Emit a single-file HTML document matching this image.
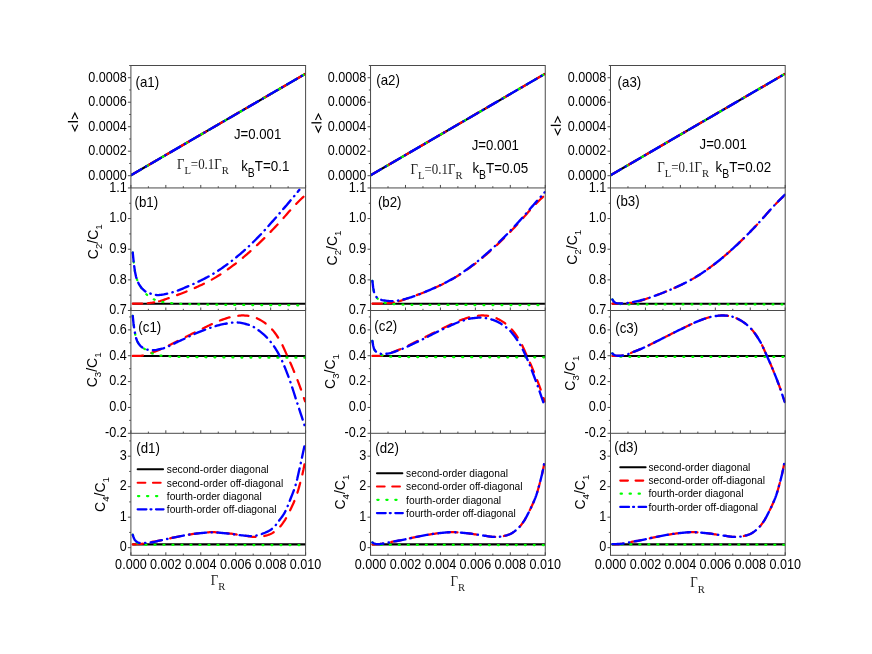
<!DOCTYPE html>
<html><head><meta charset="utf-8"><title>figure</title>
<style>
html,body{margin:0;padding:0;background:#fff;}
body{width:872px;height:654px;overflow:hidden;font-family:"Liberation Sans",sans-serif;}
svg{display:block;will-change:transform;}
</style></head><body>
<svg width="872" height="654" viewBox="0 0 872 654">
<rect x="0" y="0" width="872" height="654" fill="#fff"/>
<defs>
<clipPath id="cp00"><rect x="130.90" y="65.50" width="175.10" height="122.45"/></clipPath>
<clipPath id="cp01"><rect x="130.90" y="187.95" width="175.10" height="122.55"/></clipPath>
<clipPath id="cp02"><rect x="130.90" y="310.50" width="175.10" height="122.80"/></clipPath>
<clipPath id="cp03"><rect x="130.90" y="433.30" width="175.10" height="122.00"/></clipPath>
<clipPath id="cp10"><rect x="370.55" y="65.50" width="175.10" height="122.45"/></clipPath>
<clipPath id="cp11"><rect x="370.55" y="187.95" width="175.10" height="122.55"/></clipPath>
<clipPath id="cp12"><rect x="370.55" y="310.50" width="175.10" height="122.80"/></clipPath>
<clipPath id="cp13"><rect x="370.55" y="433.30" width="175.10" height="122.00"/></clipPath>
<clipPath id="cp20"><rect x="610.50" y="65.50" width="175.10" height="122.45"/></clipPath>
<clipPath id="cp21"><rect x="610.50" y="187.95" width="175.10" height="122.55"/></clipPath>
<clipPath id="cp22"><rect x="610.50" y="310.50" width="175.10" height="122.80"/></clipPath>
<clipPath id="cp23"><rect x="610.50" y="433.30" width="175.10" height="122.00"/></clipPath>
</defs>
<g>
<g clip-path="url(#cp00)">
<path d="M131.40,175.00 L305.60,73.70" fill="none" stroke="#000" stroke-width="2.1" stroke-linecap="butt"/>
<path d="M131.40,175.00 L305.60,73.70" fill="none" stroke="#ff0000" stroke-width="2.25" stroke-linecap="round" stroke-dasharray="10.15 8.85"/>
<path d="M131.40,175.00 L305.60,73.70" fill="none" stroke="#00ff00" stroke-width="2.25" stroke-linecap="round" stroke-dasharray="1.0 8.0"/>
<path d="M131.40,175.00 L305.60,73.70" fill="none" stroke="#0000ff" stroke-width="2.35" stroke-linecap="round" stroke-dasharray="11.45 5.35 0.4 5.3"/>
</g><g clip-path="url(#cp01)">
<path d="M132.40,303.68 L305.60,303.68" fill="none" stroke="#000" stroke-width="2.1" stroke-linecap="butt"/>
<path d="M132.73,303.68 L134.00,303.68 L135.27,303.68 L136.54,303.68 L137.81,303.68 L139.08,303.68 L140.35,303.68 L141.44,303.66 L142.53,303.62 L143.62,303.56 L144.71,303.49 L145.80,303.41 L146.89,303.33 L148.10,303.22 L149.31,303.08 L150.52,302.92 L151.73,302.74 L152.94,302.54 L154.15,302.32 L155.37,302.08 L156.58,301.84 L157.79,301.58 L159.00,301.30 L159.13,301.26" fill="none" stroke-linejoin="round" stroke="#ff0000" stroke-width="2.25" stroke-linecap="round"  stroke-dasharray="9.5 5.5 6.5 50"/>
<path d="M159.13,301.26 L160.21,300.97 L161.42,300.61 L162.63,300.22 L163.84,299.81 L165.05,299.38 L166.26,298.95 L167.47,298.52 L168.68,298.10 L169.96,297.65 L171.25,297.21 L172.53,296.75 L173.81,296.30 L175.09,295.83 L176.37,295.37 L177.66,294.89 L178.94,294.42 L180.22,293.93 L181.50,293.44 L182.78,292.94 L184.06,292.44 L185.35,291.93 L186.63,291.41 L187.91,290.89 L189.19,290.36 L190.47,289.82 L191.76,289.27 L193.04,288.72 L194.32,288.16 L195.60,287.60 L196.88,287.02 L198.16,286.44 L199.45,285.85 L200.73,285.26 L202.01,284.65 L203.29,284.03 L204.57,283.40 L205.86,282.76 L207.14,282.11 L208.42,281.44 L209.70,280.76 L210.98,280.07 L212.26,279.36 L213.55,278.63 L214.83,277.88 L216.11,277.11 L217.39,276.33 L218.67,275.52 L219.96,274.70 L221.24,273.86 L222.52,273.01 L223.80,272.14 L225.08,271.25 L226.37,270.36 L227.65,269.45 L228.93,268.53 L230.21,267.60 L231.49,266.66 L232.77,265.71 L234.06,264.76 L235.34,263.79 L236.62,262.80 L237.90,261.79 L239.18,260.76 L240.47,259.72 L241.75,258.66 L243.03,257.59 L244.31,256.50 L245.59,255.41 L246.87,254.29 L248.16,253.17 L249.44,252.04 L250.72,250.89 L252.00,249.74 L253.28,248.58 L254.57,247.41 L255.85,246.23 L257.13,245.05 L258.41,243.85 L259.69,242.63 L260.97,241.40 L262.26,240.16 L263.54,238.90 L264.82,237.63 L266.10,236.35 L267.38,235.06 L268.67,233.76 L269.95,232.45 L271.23,231.14 L272.51,229.81 L273.79,228.48 L275.08,227.14 L276.36,225.79 L277.64,224.44 L278.88,223.11 L280.13,221.75 L281.37,220.37 L282.62,218.97 L283.86,217.55 L285.11,216.13 L286.36,214.70 L287.60,213.28 L288.85,211.86 L290.09,210.45 L291.34,209.06 L292.58,207.69 L293.83,206.35 L295.07,205.05 L296.32,203.76 L297.58,202.49 L298.83,201.24 L300.08,200.01 L301.34,198.80 L302.59,197.60 L303.84,196.41 L305.10,195.24" fill="none" stroke-linejoin="round" stroke="#ff0000" stroke-width="2.25" stroke-linecap="round" stroke-dasharray="10.15 8.85"/>
<path d="M132.73,252.55 L133.82,263.45 L134.91,271.15 L136.00,276.52 L137.09,279.80 L138.17,282.32 L139.26,284.39 L140.35,286.33 L141.44,288.21 L142.53,289.89 L143.62,291.34 L144.71,292.61 L145.80,293.76 L146.89,294.79 L147.98,295.70 L149.07,296.53 L150.16,297.31 L151.25,298.02 L152.34,298.65 L153.43,299.19 L154.52,299.65 L155.61,300.07 L156.70,300.45 L157.79,300.79 L158.88,301.09 L159.97,301.37 L161.21,301.65 L162.46,301.91 L163.70,302.15 L164.95,302.37 L166.19,302.57 L167.44,302.74 L168.68,302.89 L169.89,303.02 L171.10,303.14 L172.31,303.25 L173.52,303.36 L174.74,303.45 L175.95,303.54 L177.16,303.62 L178.37,303.69 L179.58,303.76 L180.79,303.82 L182.00,303.88 L183.21,303.94 L184.42,303.99 L185.63,304.04 L186.84,304.08 L188.05,304.12 L189.26,304.16 L190.47,304.20 L191.76,304.23 L193.04,304.27 L194.32,304.30 L195.60,304.33 L196.88,304.36 L198.16,304.39 L199.45,304.41 L200.73,304.44 L202.01,304.47 L203.29,304.49 L204.57,304.51 L205.86,304.54 L207.14,304.56 L208.42,304.58 L209.70,304.60 L210.98,304.62 L212.26,304.63 L213.55,304.65 L214.83,304.67 L216.11,304.69 L217.39,304.70 L218.67,304.72 L219.96,304.74 L221.24,304.75 L222.52,304.77 L223.80,304.78 L225.08,304.80 L226.37,304.81 L227.65,304.83 L228.93,304.84 L230.21,304.85 L231.49,304.87 L232.77,304.88 L234.06,304.89 L235.34,304.91 L236.62,304.92 L237.90,304.93 L239.18,304.94 L240.47,304.95 L241.75,304.97 L243.03,304.98 L244.31,304.99 L245.59,305.00 L246.87,305.01 L248.16,305.02 L249.44,305.03 L250.72,305.04 L252.00,305.04 L253.28,305.05 L254.57,305.06 L255.85,305.07 L257.14,305.08 L258.44,305.09 L259.74,305.09 L261.03,305.10 L262.33,305.11 L263.62,305.12 L264.92,305.12 L266.22,305.13 L267.51,305.14 L268.81,305.15 L270.10,305.15 L271.40,305.16 L272.70,305.17 L273.99,305.18 L275.29,305.18 L276.58,305.19 L277.88,305.20 L279.18,305.20 L280.47,305.21 L281.77,305.21 L283.06,305.22 L284.36,305.23 L285.66,305.23 L286.95,305.24 L288.25,305.24 L289.54,305.25 L290.84,305.25 L292.14,305.26 L293.43,305.26 L294.73,305.26 L296.02,305.27 L297.32,305.27 L298.62,305.27 L299.91,305.28 L301.21,305.28 L302.50,305.28 L303.80,305.29 L305.10,305.29" fill="none" stroke-linejoin="round" stroke="#00ff00" stroke-width="2.25" stroke-linecap="round" stroke-dasharray="1.0 8.0" />
<path d="M132.73,252.55 L133.82,263.45 L134.91,271.15 L136.00,276.52 L137.09,279.90 L138.17,282.58 L138.24,282.71" fill="none" stroke-linejoin="round" stroke="#0000ff" stroke-width="2.35" stroke-linecap="round"  stroke-dasharray="9 4.6 12 50"/>
<path d="M138.24,282.71 L139.26,284.69 L140.35,286.33 L141.44,287.70 L142.53,288.93 L143.62,290.01 L144.71,290.92 L145.80,291.66 L146.89,292.21 L148.10,292.71 L149.31,293.19 L150.52,293.63 L151.73,294.03 L152.94,294.37 L154.15,294.65 L155.37,294.87 L156.58,295.00 L157.79,295.05 L159.00,295.01 L160.21,294.92 L161.42,294.77 L162.63,294.57 L163.84,294.35 L165.05,294.10 L166.26,293.84 L167.47,293.57 L168.68,293.30 L169.96,293.01 L171.25,292.68 L172.53,292.32 L173.81,291.92 L175.09,291.50 L176.37,291.06 L177.66,290.59 L178.94,290.10 L180.22,289.59 L181.50,289.07 L182.78,288.54 L184.06,288.00 L185.35,287.45 L186.63,286.89 L187.91,286.34 L189.19,285.79 L190.47,285.24 L191.76,284.69 L193.04,284.13 L194.32,283.56 L195.60,282.98 L196.88,282.38 L198.16,281.78 L199.45,281.17 L200.73,280.54 L202.01,279.90 L203.29,279.25 L204.57,278.59 L205.86,277.91 L207.14,277.23 L208.42,276.53 L209.70,275.81 L210.98,275.08 L212.26,274.34 L213.55,273.59 L214.83,272.81 L216.11,272.01 L217.39,271.19 L218.67,270.35 L219.96,269.49 L221.24,268.62 L222.52,267.72 L223.80,266.82 L225.08,265.90 L226.37,264.96 L227.65,264.01 L228.93,263.05 L230.21,262.08 L231.49,261.09 L232.77,260.10 L234.06,259.09 L235.34,258.07 L236.62,257.03 L237.90,255.97 L239.18,254.90 L240.47,253.80 L241.75,252.69 L243.03,251.56 L244.31,250.41 L245.59,249.25 L246.87,248.08 L248.16,246.89 L249.44,245.68 L250.72,244.47 L252.00,243.24 L253.28,241.99 L254.57,240.74 L255.85,239.48 L257.13,238.20 L258.41,236.89 L259.69,235.56 L260.97,234.20 L262.26,232.83 L263.54,231.44 L264.82,230.03 L266.10,228.61 L267.38,227.18 L268.67,225.74 L269.95,224.29 L271.23,222.83 L272.51,221.37 L273.79,219.90 L275.08,218.43 L276.36,216.97 L277.64,215.51 L278.92,214.05 L280.20,212.58 L281.48,211.10 L282.77,209.62 L284.05,208.13 L285.33,206.64 L286.61,205.14 L287.89,203.63 L289.18,202.12 L290.46,200.60 L291.74,199.07 L293.02,197.54 L294.30,196.00 L295.58,194.46 L296.87,192.91 L298.15,191.35 L299.43,189.79" fill="none" stroke-linejoin="round" stroke="#0000ff" stroke-width="2.35" stroke-linecap="round" stroke-dasharray="11.45 5.35 0.4 5.3"/>
</g><g clip-path="url(#cp02)">
<path d="M132.40,355.99 L305.60,355.99" fill="none" stroke="#000" stroke-width="2.1" stroke-linecap="butt"/>
<path d="M132.73,355.99 L134.00,355.98 L135.27,355.96 L136.54,355.93 L137.81,355.89 L139.08,355.83 L140.35,355.77 L141.44,355.69 L142.53,355.56 L143.62,355.38 L144.71,355.17 L145.80,354.94 L146.89,354.68 L147.98,354.37 L149.07,353.97 L150.16,353.51 L151.25,353.02 L152.34,352.53 L153.43,352.07 L154.67,351.58 L155.92,351.09 L157.16,350.61 L158.41,350.12 L159.65,349.62 L160.90,349.11 L162.15,348.58 L163.39,348.03 L164.64,347.47 L165.88,346.89 L167.13,346.29 L168.37,345.69 L169.62,345.08 L170.86,344.46 L172.11,343.84 L173.35,343.21 L174.60,342.58 L175.84,341.95 L177.09,341.32 L178.33,340.70 L179.58,340.08 L180.86,339.45 L182.14,338.81 L183.42,338.16 L184.71,337.52 L185.99,336.87 L187.27,336.21 L188.55,335.56 L189.83,334.91 L191.11,334.26 L192.40,333.61 L193.68,332.96 L194.96,332.32 L196.24,331.68 L197.52,331.05 L198.81,330.42 L200.09,329.80 L201.37,329.19 L202.65,328.58 L203.93,327.96 L205.21,327.33 L206.50,326.71 L207.78,326.08 L209.06,325.45 L210.34,324.83 L211.62,324.22 L212.91,323.61 L214.19,323.02 L215.47,322.44 L216.75,321.87 L218.03,321.33 L219.32,320.80 L220.60,320.30 L221.88,319.83 L223.16,319.38 L224.37,318.97 L225.58,318.56 L226.79,318.17 L228.00,317.78 L229.21,317.42 L230.42,317.08 L231.63,316.79 L232.85,316.53 L234.06,316.33 L235.30,316.15 L236.55,315.97 L237.79,315.81 L239.04,315.67 L240.28,315.56 L241.53,315.49 L242.77,315.46 L243.86,315.48 L244.95,315.52 L246.04,315.59 L247.13,315.68 L248.22,315.78 L249.31,315.90 L250.40,316.06 L251.49,316.32 L252.58,316.65 L253.67,317.02 L254.76,317.43 L255.85,317.86 L257.04,318.35 L258.22,318.90 L259.41,319.50 L260.60,320.15 L261.79,320.86 L262.98,321.62 L264.17,322.42 L265.36,323.28 L266.54,324.18 L267.73,325.14 L268.92,326.14 L270.13,327.25 L271.34,328.51 L272.55,329.89 L273.76,331.39 L274.98,333.00 L276.19,334.70 L277.40,336.50 L278.61,338.37 L279.82,340.30 L281.09,342.52 L282.36,345.01 L283.63,347.69 L284.90,350.50 L286.17,353.36 L287.44,356.21 L288.67,358.95 L289.90,361.73 L291.12,364.56 L292.35,367.43 L293.57,370.37 L294.80,373.36 L296.03,376.41 L297.25,379.53 L298.37,382.44 L299.49,385.43 L300.61,388.49 L301.73,391.61 L302.85,394.79 L303.97,398.03 L305.10,401.32" fill="none" stroke-linejoin="round" stroke="#ff0000" stroke-width="2.25" stroke-linecap="round" stroke-dasharray="10.15 8.85" />
<path d="M132.73,315.90 L133.49,323.24 L134.25,328.97 L135.20,334.12 L136.14,338.25 L137.09,340.96 L138.17,342.87 L139.26,344.38 L140.35,345.57 L141.44,346.58 L142.53,347.49 L143.62,348.31 L144.71,349.00 L145.80,349.67 L146.89,350.38 L147.98,351.09 L149.07,351.78 L150.16,352.41 L151.25,352.94 L152.34,353.40 L153.43,353.84 L154.52,354.23 L155.61,354.59 L156.70,354.88 L157.79,355.12 L159.00,355.33 L160.21,355.53 L161.42,355.71 L162.63,355.87 L163.84,356.01 L165.05,356.14 L166.26,356.25 L167.47,356.35 L168.68,356.43 L169.89,356.50 L171.10,356.56 L172.31,356.62 L173.52,356.67 L174.74,356.72 L175.95,356.76 L177.16,356.80 L178.37,356.83 L179.58,356.86 L180.84,356.89 L182.09,356.92 L183.35,356.94 L184.61,356.96 L185.86,356.99 L187.12,357.01 L188.38,357.03 L189.64,357.05 L190.89,357.07 L192.15,357.09 L193.41,357.11 L194.66,357.12 L195.92,357.14 L197.18,357.16 L198.44,357.17 L199.69,357.18 L200.95,357.20 L202.21,357.21 L203.46,357.22 L204.72,357.24 L205.98,357.25 L207.24,357.26 L208.49,357.27 L209.75,357.28 L211.01,357.29 L212.26,357.30 L213.55,357.31 L214.84,357.32 L216.13,357.33 L217.42,357.34 L218.71,357.35 L220.00,357.36 L221.29,357.37 L222.58,357.38 L223.87,357.38 L225.16,357.39 L226.45,357.40 L227.74,357.41 L229.03,357.42 L230.32,357.43 L231.60,357.44 L232.89,357.45 L234.18,357.46 L235.47,357.47 L236.76,357.47 L238.05,357.48 L239.34,357.49 L240.63,357.50 L241.92,357.51 L243.21,357.52 L244.50,357.52 L245.79,357.53 L247.08,357.54 L248.37,357.55 L249.66,357.55 L250.94,357.56 L252.23,357.57 L253.52,357.58 L254.81,357.58 L256.10,357.59 L257.39,357.60 L258.68,357.60 L259.97,357.61 L261.26,357.62 L262.55,357.62 L263.84,357.63 L265.13,357.64 L266.42,357.64 L267.71,357.65 L268.99,357.65 L270.28,357.66 L271.57,357.66 L272.86,357.67 L274.15,357.67 L275.44,357.68 L276.73,357.68 L278.02,357.69 L279.31,357.69 L280.60,357.70 L281.89,357.70 L283.18,357.70 L284.47,357.71 L285.76,357.71 L287.05,357.71 L288.33,357.72 L289.62,357.72 L290.91,357.72 L292.20,357.72 L293.49,357.73 L294.78,357.73 L296.07,357.73 L297.36,357.73 L298.65,357.73 L299.94,357.73 L301.23,357.73 L302.52,357.73 L303.81,357.73 L305.10,357.73" fill="none" stroke-linejoin="round" stroke="#00ff00" stroke-width="2.25" stroke-linecap="round" stroke-dasharray="1.0 8.0" />
<path d="M132.73,315.90 L133.49,323.24 L134.25,328.97 L135.20,334.12 L136.14,338.25 L137.09,340.96 L138.17,342.93 L139.26,344.54 L140.35,345.81 L141.44,346.79 L142.53,347.49 L143.78,348.14 L145.02,348.73 L146.27,349.26 L147.51,349.70 L148.76,350.04 L150.00,350.25 L151.25,350.33 L152.46,350.29 L153.67,350.20 L154.88,350.06 L156.09,349.87 L157.30,349.65 L158.51,349.40 L159.72,349.13 L160.93,348.86 L162.15,348.58 L163.39,348.27 L164.64,347.88 L165.88,347.44 L167.13,346.95 L168.37,346.41 L169.62,345.84 L170.86,345.24 L172.11,344.63 L173.35,344.00 L174.60,343.36 L175.84,342.74 L177.09,342.12 L178.33,341.52 L179.58,340.96 L180.86,340.38 L182.14,339.79 L183.42,339.20 L184.71,338.60 L185.99,337.99 L187.27,337.38 L188.55,336.77 L189.83,336.17 L191.11,335.56 L192.40,334.97 L193.68,334.38 L194.96,333.80 L196.24,333.24 L197.52,332.69 L198.81,332.15 L200.09,331.64 L201.37,331.15 L202.65,330.67 L203.93,330.18 L205.21,329.70 L206.50,329.22 L207.78,328.74 L209.06,328.27 L210.34,327.81 L211.62,327.36 L212.91,326.92 L214.19,326.50 L215.47,326.10 L216.75,325.71 L218.03,325.35 L219.32,325.02 L220.60,324.71 L221.88,324.43 L223.16,324.18 L224.35,323.96 L225.54,323.73 L226.73,323.51 L227.92,323.30 L229.10,323.10 L230.29,322.92 L231.48,322.76 L232.67,322.62 L233.86,322.52 L235.05,322.46 L236.24,322.43 L237.42,322.46 L238.61,322.55 L239.80,322.70 L240.99,322.88 L242.18,323.11 L243.37,323.38 L244.56,323.68 L245.74,324.00 L246.93,324.34 L248.12,324.69 L249.31,325.05 L250.50,325.46 L251.69,325.97 L252.88,326.56 L254.06,327.23 L255.25,327.97 L256.44,328.77 L257.63,329.61 L258.82,330.50 L260.01,331.42 L261.20,332.37 L262.38,333.33 L263.60,334.35 L264.81,335.46 L266.02,336.66 L267.23,337.93 L268.44,339.27 L269.65,340.68 L270.86,342.17 L272.07,343.71 L273.28,345.31 L274.37,346.85 L275.46,348.50 L276.55,350.28 L277.64,352.16 L278.73,354.14 L279.82,356.21 L281.06,358.73 L282.31,361.43 L283.55,364.30 L284.80,367.31 L286.04,370.43 L287.29,373.64 L288.53,376.91 L289.78,380.32 L291.02,383.92 L292.27,387.67 L293.52,391.50 L294.76,395.38 L296.01,399.25 L297.25,403.06 L298.37,406.46 L299.49,409.87 L300.61,413.28 L301.73,416.71 L302.85,420.14 L303.97,423.58 L305.10,427.03" fill="none" stroke-linejoin="round" stroke="#0000ff" stroke-width="2.35" stroke-linecap="round" stroke-dasharray="11.45 5.35 0.4 5.3" />
</g><g clip-path="url(#cp03)">
<path d="M132.40,544.37 L305.60,544.37" fill="none" stroke="#000" stroke-width="2.1" stroke-linecap="butt"/>
<path d="M132.73,544.37 L134.00,544.35 L135.27,544.30 L136.54,544.23 L137.81,544.14 L139.08,544.04 L140.35,543.93 L141.44,543.81 L142.53,543.65 L143.62,543.46 L144.71,543.25 L145.80,543.04 L146.89,542.84 L148.14,542.62 L149.38,542.40 L150.63,542.18 L151.87,541.95 L153.12,541.72 L154.36,541.49 L155.61,541.26 L156.85,541.03 L158.10,540.79 L159.34,540.55 L160.59,540.31 L161.83,540.07 L163.08,539.82 L164.32,539.57 L165.60,539.31 L166.87,539.04 L168.14,538.76 L169.41,538.48 L170.68,538.19 L171.95,537.91 L173.22,537.62 L174.49,537.34 L175.76,537.07 L177.04,536.80 L178.31,536.55 L179.58,536.30 L180.82,536.07 L182.07,535.84 L183.31,535.61 L184.56,535.38 L185.80,535.16 L187.05,534.94 L188.29,534.72 L189.54,534.52 L190.79,534.32 L192.03,534.13 L193.28,533.94 L194.52,533.77 L195.77,533.62 L197.01,533.47 L198.28,533.32 L199.55,533.18 L200.82,533.03 L202.10,532.88 L203.37,532.74 L204.64,532.60 L205.91,532.48 L207.18,532.38 L208.45,532.29 L209.72,532.22 L210.99,532.18 L212.26,532.16 L213.54,532.17 L214.81,532.21 L216.08,532.26 L217.35,532.34 L218.62,532.42 L219.89,532.53 L221.16,532.64 L222.43,532.75 L223.71,532.88 L224.98,533.00 L226.25,533.13 L227.52,533.25 L228.79,533.38 L230.06,533.54 L231.33,533.70 L232.60,533.89 L233.87,534.08 L235.15,534.28 L236.42,534.48 L237.69,534.68 L238.96,534.88 L240.23,535.08 L241.50,535.26 L242.77,535.43 L243.96,535.59 L245.15,535.77 L246.34,535.95 L247.53,536.14 L248.72,536.32 L249.90,536.49 L251.09,536.64 L252.28,536.77 L253.47,536.87 L254.66,536.93 L255.85,536.96 L256.94,536.94 L258.03,536.89 L259.12,536.82 L260.21,536.74 L261.30,536.61 L262.38,536.43 L263.47,536.19 L264.56,535.92 L265.65,535.65 L266.74,535.36 L267.83,535.04 L268.92,534.67 L270.01,534.26 L271.10,533.80 L272.35,533.13 L273.61,532.32 L274.86,531.40 L276.11,530.42 L277.09,529.61 L278.07,528.72 L279.06,527.76 L280.04,526.71 L281.08,525.49 L282.13,524.15 L283.17,522.70 L284.22,521.15 L285.27,519.52 L286.46,517.44 L287.66,515.16 L288.86,512.81 L290.06,510.37 L291.22,507.98 L292.38,505.54 L293.55,502.96 L294.56,500.60 L295.58,498.10 L296.60,495.33 L297.83,491.45 L299.07,487.08 L300.30,482.48 L301.32,478.62 L302.34,474.55 L303.35,470.06 L304.22,465.62 L305.10,460.69" fill="none" stroke-linejoin="round" stroke="#ff0000" stroke-width="2.25" stroke-linecap="round" stroke-dasharray="10.15 8.85" />
<path d="M132.73,534.78 L133.82,537.94 L134.91,540.22 L136.00,541.70 L137.09,542.83 L138.17,543.49 L139.26,543.86 L140.35,544.18 L141.44,544.44 L142.53,544.63 L143.62,544.76 L144.71,544.80 L146.01,544.81 L147.30,544.81 L148.59,544.82 L149.89,544.82 L151.18,544.83 L152.47,544.83 L153.77,544.83 L155.06,544.84 L156.35,544.84 L157.65,544.85 L158.94,544.85 L160.23,544.86 L161.53,544.86 L162.82,544.86 L164.11,544.87 L165.41,544.87 L166.70,544.88 L167.99,544.88 L169.29,544.88 L170.58,544.89 L171.87,544.89 L173.17,544.89 L174.46,544.90 L175.75,544.90 L177.05,544.90 L178.34,544.91 L179.63,544.91 L180.93,544.91 L182.22,544.92 L183.51,544.92 L184.81,544.92 L186.10,544.93 L187.39,544.93 L188.69,544.93 L189.98,544.93 L191.28,544.94 L192.57,544.94 L193.86,544.94 L195.16,544.94 L196.45,544.95 L197.74,544.95 L199.04,544.95 L200.33,544.95 L201.62,544.96 L202.92,544.96 L204.21,544.96 L205.50,544.96 L206.80,544.96 L208.09,544.97 L209.38,544.97 L210.68,544.97 L211.97,544.97 L213.26,544.97 L214.56,544.98 L215.85,544.98 L217.14,544.98 L218.44,544.98 L219.73,544.98 L221.02,544.98 L222.32,544.98 L223.61,544.99 L224.90,544.99 L226.20,544.99 L227.49,544.99 L228.78,544.99 L230.08,544.99 L231.37,544.99 L232.66,545.00 L233.96,545.00 L235.25,545.00 L236.54,545.00 L237.84,545.00 L239.13,545.00 L240.42,545.00 L241.72,545.00 L243.01,545.00 L244.31,545.00 L245.60,545.01 L246.89,545.01 L248.19,545.01 L249.48,545.01 L250.77,545.01 L252.07,545.01 L253.36,545.01 L254.65,545.01 L255.95,545.01 L257.24,545.01 L258.53,545.01 L259.83,545.01 L261.12,545.01 L262.41,545.01 L263.71,545.01 L265.00,545.01 L266.29,545.01 L267.59,545.01 L268.88,545.02 L270.17,545.02 L271.47,545.02 L272.76,545.02 L274.05,545.02 L275.35,545.02 L276.64,545.02 L277.93,545.02 L279.23,545.02 L280.52,545.02 L281.81,545.02 L283.11,545.02 L284.40,545.02 L285.69,545.02 L286.99,545.02 L288.28,545.02 L289.57,545.02 L290.87,545.02 L292.16,545.02 L293.45,545.02 L294.75,545.02 L296.04,545.02 L297.34,545.02 L298.63,545.02 L299.92,545.02 L301.22,545.02 L302.51,545.02 L303.80,545.02 L305.10,545.02" fill="none" stroke-linejoin="round" stroke="#00ff00" stroke-width="2.25" stroke-linecap="round" stroke-dasharray="1.0 8.0" />
<path d="M132.73,534.78 L133.82,538.08 L134.91,540.22 L136.00,541.18 L137.09,541.97 L138.17,542.56 L139.26,542.93 L140.35,543.06 L141.44,543.05 L142.53,543.03 L143.62,542.99 L144.71,542.95 L145.80,542.89 L146.89,542.84 L148.14,542.75 L149.38,542.63 L150.63,542.46 L151.87,542.27 L153.12,542.04 L154.36,541.79 L155.61,541.53 L156.85,541.25 L158.10,540.97 L159.34,540.68 L160.59,540.39 L161.83,540.10 L163.08,539.83 L164.32,539.57 L165.60,539.31 L166.87,539.04 L168.14,538.76 L169.41,538.48 L170.68,538.19 L171.95,537.91 L173.22,537.62 L174.49,537.34 L175.76,537.07 L177.04,536.80 L178.31,536.55 L179.58,536.30 L180.82,536.07 L182.07,535.84 L183.31,535.60 L184.56,535.37 L185.80,535.14 L187.05,534.92 L188.29,534.70 L189.54,534.49 L190.79,534.28 L192.03,534.09 L193.28,533.91 L194.52,533.75 L195.77,533.60 L197.01,533.47 L198.28,533.34 L199.55,533.22 L200.82,533.09 L202.10,532.96 L203.37,532.85 L204.64,532.74 L205.91,532.64 L207.18,532.55 L208.45,532.48 L209.72,532.43 L210.99,532.39 L212.26,532.38 L213.54,532.39 L214.81,532.43 L216.08,532.48 L217.35,532.56 L218.62,532.65 L219.89,532.75 L221.16,532.86 L222.43,532.98 L223.71,533.10 L224.98,533.23 L226.25,533.35 L227.52,533.47 L228.79,533.60 L230.06,533.74 L231.33,533.91 L232.60,534.08 L233.87,534.26 L235.15,534.45 L236.42,534.63 L237.69,534.82 L238.96,534.99 L240.23,535.15 L241.50,535.30 L242.77,535.43 L244.02,535.55 L245.26,535.68 L246.51,535.80 L247.75,535.91 L249.00,536.00 L250.24,536.06 L251.49,536.08 L252.58,536.05 L253.67,535.95 L254.76,535.81 L255.85,535.63 L256.94,535.42 L258.03,535.21 L259.16,534.94 L260.29,534.58 L261.43,534.16 L262.56,533.71 L263.69,533.25 L264.96,532.73 L266.22,532.18 L267.48,531.59 L268.75,530.93 L270.01,530.20 L271.16,529.45 L272.30,528.58 L273.44,527.60 L274.59,526.50 L275.57,525.36 L276.55,524.03 L277.53,522.62 L278.51,521.27 L279.75,519.70 L280.98,518.14 L282.21,516.47 L283.09,515.20 L283.96,513.83 L284.83,512.33 L285.92,510.17 L287.01,507.76 L288.10,505.10 L289.19,502.31 L290.17,499.80 L291.15,497.30 L292.02,495.15 L292.89,492.94 L293.95,490.07 L295.00,487.00 L296.05,483.57 L297.20,479.08 L298.34,474.09 L298.99,471.12 L299.65,468.10 L300.85,462.67 L302.04,457.20 L303.06,452.47 L304.08,447.68 L305.10,442.82" fill="none" stroke-linejoin="round" stroke="#0000ff" stroke-width="2.35" stroke-linecap="round" stroke-dasharray="11.45 5.35 0.4 5.3" />
</g></g>
<g>
<g clip-path="url(#cp10)">
<path d="M371.05,175.00 L545.25,73.70" fill="none" stroke="#000" stroke-width="2.1" stroke-linecap="butt"/>
<path d="M371.05,175.00 L545.25,73.70" fill="none" stroke="#ff0000" stroke-width="2.25" stroke-linecap="round" stroke-dasharray="10.15 8.85"/>
<path d="M371.05,175.00 L545.25,73.70" fill="none" stroke="#00ff00" stroke-width="2.25" stroke-linecap="round" stroke-dasharray="1.0 8.0"/>
<path d="M371.05,175.00 L545.25,73.70" fill="none" stroke="#0000ff" stroke-width="2.35" stroke-linecap="round" stroke-dasharray="11.45 5.35 0.4 5.3"/>
</g><g clip-path="url(#cp11)">
<path d="M372.05,303.68 L545.25,303.68" fill="none" stroke="#000" stroke-width="2.1" stroke-linecap="butt"/>
<path d="M372.38,303.68 L373.65,303.68 L374.92,303.68 L376.19,303.68 L377.46,303.68 L378.73,303.68 L380.00,303.68 L381.09,303.66 L382.18,303.62 L383.27,303.56 L384.36,303.49 L385.45,303.41 L386.54,303.33 L387.75,303.22 L388.96,303.08 L390.17,302.92 L391.38,302.74 L392.59,302.54 L393.80,302.32 L395.02,302.08 L396.23,301.84 L397.44,301.58 L398.65,301.30 L398.78,301.26" fill="none" stroke-linejoin="round" stroke="#ff0000" stroke-width="2.25" stroke-linecap="round"  stroke-dasharray="9.5 5.5 6.5 50"/>
<path d="M398.78,301.26 L399.86,300.97 L401.07,300.61 L402.28,300.22 L403.49,299.81 L404.70,299.38 L405.91,298.95 L407.12,298.52 L408.33,298.10 L409.61,297.65 L410.90,297.21 L412.18,296.75 L413.46,296.30 L414.74,295.83 L416.02,295.37 L417.31,294.89 L418.59,294.42 L419.87,293.93 L421.15,293.44 L422.43,292.94 L423.71,292.44 L425.00,291.93 L426.28,291.41 L427.56,290.89 L428.84,290.36 L430.12,289.82 L431.41,289.27 L432.69,288.72 L433.97,288.16 L435.25,287.60 L436.53,287.02 L437.81,286.44 L439.10,285.85 L440.38,285.26 L441.66,284.65 L442.94,284.03 L444.22,283.40 L445.51,282.76 L446.79,282.11 L448.07,281.44 L449.35,280.76 L450.63,280.07 L451.91,279.36 L453.20,278.63 L454.48,277.88 L455.76,277.11 L457.04,276.33 L458.32,275.52 L459.61,274.70 L460.89,273.86 L462.17,273.01 L463.45,272.14 L464.73,271.25 L466.02,270.36 L467.30,269.45 L468.58,268.53 L469.86,267.60 L471.14,266.66 L472.42,265.71 L473.71,264.76 L474.99,263.79 L476.27,262.80 L477.55,261.79 L478.83,260.76 L480.12,259.72 L481.40,258.66 L482.68,257.59 L483.96,256.50 L485.24,255.41 L486.52,254.29 L487.81,253.17 L489.09,252.04 L490.37,250.89 L491.65,249.74 L492.93,248.58 L494.22,247.41 L495.50,246.23 L496.78,245.05 L498.06,243.85 L499.34,242.63 L500.62,241.40 L501.91,240.16 L503.19,238.90 L504.47,237.63 L505.75,236.35 L507.03,235.06 L508.32,233.76 L509.60,232.45 L510.88,231.14 L512.16,229.81 L513.44,228.48 L514.73,227.14 L516.01,225.79 L517.29,224.44 L518.53,223.11 L519.78,221.75 L521.02,220.37 L522.27,218.97 L523.51,217.55 L524.76,216.13 L526.01,214.70 L527.25,213.28 L528.50,211.86 L529.74,210.45 L530.99,209.06 L532.23,207.69 L533.48,206.35 L534.72,205.05 L535.97,203.76 L537.23,202.49 L538.48,201.24 L539.73,200.01 L540.99,198.80 L542.24,197.60 L543.49,196.41 L544.75,195.24" fill="none" stroke-linejoin="round" stroke="#ff0000" stroke-width="2.25" stroke-linecap="round" stroke-dasharray="10.15 8.85"/>
<path d="M372.38,280.88 L373.14,287.38 L373.90,291.78 L374.88,294.40 L375.86,296.30 L376.84,297.68 L377.82,298.75 L378.91,299.77 L380.00,300.61 L381.09,301.29 L382.18,301.80 L383.27,302.21 L384.36,302.57 L385.45,302.88 L386.54,303.14 L387.63,303.36 L388.72,303.54 L389.97,303.72 L391.21,303.89 L392.46,304.04 L393.70,304.16 L394.95,304.27 L396.19,304.36 L397.44,304.42 L398.72,304.46 L400.00,304.51 L401.28,304.55 L402.56,304.58 L403.85,304.62 L405.13,304.65 L406.41,304.68 L407.69,304.71 L408.97,304.74 L410.26,304.76 L411.54,304.78 L412.82,304.80 L414.10,304.81 L415.38,304.83 L416.66,304.84 L417.95,304.85 L419.23,304.85 L420.52,304.86 L421.82,304.86 L423.11,304.87 L424.40,304.87 L425.70,304.88 L426.99,304.88 L428.29,304.89 L429.58,304.89 L430.87,304.90 L432.17,304.90 L433.46,304.90 L434.76,304.91 L436.05,304.91 L437.34,304.92 L438.64,304.92 L439.93,304.93 L441.23,304.93 L442.52,304.93 L443.81,304.94 L445.11,304.94 L446.40,304.94 L447.70,304.95 L448.99,304.95 L450.28,304.96 L451.58,304.96 L452.87,304.96 L454.17,304.97 L455.46,304.97 L456.75,304.97 L458.05,304.98 L459.34,304.98 L460.64,304.98 L461.93,304.98 L463.22,304.99 L464.52,304.99 L465.81,304.99 L467.11,305.00 L468.40,305.00 L469.69,305.00 L470.99,305.00 L472.28,305.01 L473.58,305.01 L474.87,305.01 L476.16,305.01 L477.46,305.02 L478.75,305.02 L480.05,305.02 L481.34,305.02 L482.63,305.02 L483.93,305.03 L485.22,305.03 L486.52,305.03 L487.81,305.03 L489.10,305.03 L490.40,305.04 L491.69,305.04 L492.99,305.04 L494.28,305.04 L495.57,305.04 L496.87,305.04 L498.16,305.05 L499.46,305.05 L500.75,305.05 L502.04,305.05 L503.34,305.05 L504.63,305.05 L505.93,305.05 L507.22,305.05 L508.51,305.06 L509.81,305.06 L511.10,305.06 L512.40,305.06 L513.69,305.06 L514.98,305.06 L516.28,305.06 L517.57,305.06 L518.87,305.06 L520.16,305.06 L521.45,305.06 L522.75,305.06 L524.04,305.07 L525.34,305.07 L526.63,305.07 L527.92,305.07 L529.22,305.07 L530.51,305.07 L531.81,305.07 L533.10,305.07 L534.39,305.07 L535.69,305.07 L536.98,305.07 L538.28,305.07 L539.57,305.07 L540.86,305.07 L542.16,305.07 L543.45,305.07 L544.75,305.07" fill="none" stroke-linejoin="round" stroke="#00ff00" stroke-width="2.25" stroke-linecap="round" stroke-dasharray="1.0 8.0" />
<path d="M372.38,280.88 L373.14,287.42 L373.90,291.78 L374.88,294.33 L375.86,296.22 L376.84,297.52 L377.82,298.31 L378.91,298.90 L380.00,299.38 L381.09,299.77 L382.18,300.08 L383.27,300.32 L384.36,300.49 L385.63,300.66 L386.90,300.82 L388.18,300.95 L389.45,301.06 L390.72,301.12 L391.99,301.15 L393.26,301.11 L394.53,301.01 L395.80,300.86 L397.07,300.68 L398.34,300.48 L399.62,300.28 L400.86,300.06 L402.11,299.79 L403.35,299.50 L404.60,299.17 L405.84,298.82 L407.09,298.46 L408.33,298.10 L409.61,297.71 L410.90,297.31 L412.18,296.89 L413.46,296.45 L414.74,296.00 L416.02,295.54 L417.31,295.06 L418.59,294.57 L419.87,294.07 L421.15,293.56 L422.43,293.05 L423.71,292.52 L425.00,291.99 L426.28,291.45 L427.56,290.91 L428.84,290.36 L430.12,289.82 L431.41,289.26 L432.69,288.70 L433.97,288.14 L435.25,287.56 L436.53,286.98 L437.81,286.39 L439.10,285.78 L440.38,285.17 L441.66,284.55 L442.94,283.92 L444.22,283.27 L445.51,282.62 L446.79,281.95 L448.07,281.26 L449.35,280.57 L450.63,279.86 L451.91,279.14 L453.20,278.40 L454.48,277.64 L455.76,276.86 L457.04,276.06 L458.32,275.24 L459.61,274.40 L460.89,273.55 L462.17,272.69 L463.45,271.80 L464.73,270.91 L466.02,270.00 L467.30,269.08 L468.58,268.15 L469.86,267.20 L471.14,266.25 L472.42,265.29 L473.71,264.32 L474.99,263.34 L476.27,262.34 L477.55,261.32 L478.83,260.28 L480.12,259.23 L481.40,258.16 L482.68,257.07 L483.96,255.98 L485.24,254.87 L486.52,253.74 L487.81,252.61 L489.09,251.46 L490.37,250.30 L491.65,249.13 L492.93,247.96 L494.22,246.77 L495.50,245.58 L496.78,244.37 L498.06,243.15 L499.34,241.92 L500.62,240.66 L501.91,239.40 L503.19,238.12 L504.47,236.82 L505.75,235.52 L507.03,234.20 L508.32,232.87 L509.60,231.54 L510.88,230.19 L512.16,228.84 L513.44,227.47 L514.73,226.11 L516.01,224.73 L517.29,223.35 L518.53,222.00 L519.78,220.63 L521.02,219.24 L522.27,217.83 L523.51,216.42 L524.76,214.99 L526.01,213.56 L527.25,212.12 L528.50,210.68 L529.74,209.24 L530.99,207.80 L532.23,206.37 L533.48,204.94 L534.72,203.52 L535.97,202.10 L537.23,200.68 L538.48,199.27 L539.73,197.85 L540.99,196.43 L542.24,195.02 L543.49,193.60 L544.75,192.19" fill="none" stroke-linejoin="round" stroke="#0000ff" stroke-width="2.35" stroke-linecap="round" stroke-dasharray="11.45 5.35 0.4 5.3" />
</g><g clip-path="url(#cp12)">
<path d="M372.05,355.99 L545.25,355.99" fill="none" stroke="#000" stroke-width="2.1" stroke-linecap="butt"/>
<path d="M372.38,355.99 L373.65,355.98 L374.92,355.96 L376.19,355.93 L377.46,355.89 L378.73,355.83 L380.00,355.77 L381.09,355.69 L382.18,355.56 L383.27,355.38 L384.36,355.17 L385.45,354.94 L386.54,354.68 L387.63,354.37 L388.72,353.97 L389.81,353.51 L390.90,353.02 L391.99,352.53 L393.08,352.07 L394.32,351.58 L395.57,351.09 L396.81,350.61 L398.06,350.12 L399.30,349.62 L400.55,349.11 L401.80,348.58 L403.04,348.03 L404.29,347.47 L405.53,346.89 L406.78,346.29 L408.02,345.69 L409.27,345.08 L410.51,344.46 L411.76,343.84 L413.00,343.21 L414.25,342.58 L415.49,341.95 L416.74,341.32 L417.98,340.70 L419.23,340.08 L420.51,339.45 L421.79,338.81 L423.07,338.16 L424.36,337.52 L425.64,336.87 L426.92,336.21 L428.20,335.56 L429.48,334.91 L430.76,334.26 L432.05,333.61 L433.33,332.96 L434.61,332.32 L435.89,331.68 L437.17,331.05 L438.46,330.42 L439.74,329.80 L441.02,329.19 L442.30,328.58 L443.58,327.96 L444.86,327.33 L446.15,326.71 L447.43,326.08 L448.71,325.45 L449.99,324.83 L451.27,324.22 L452.56,323.61 L453.84,323.02 L455.12,322.44 L456.40,321.87 L457.68,321.33 L458.97,320.80 L460.25,320.30 L461.53,319.83 L462.81,319.38 L464.02,318.97 L465.23,318.56 L466.44,318.17 L467.65,317.78 L468.86,317.42 L470.07,317.08 L471.28,316.79 L472.50,316.53 L473.71,316.33 L474.95,316.15 L476.20,315.97 L477.44,315.81 L478.69,315.67 L479.93,315.56 L481.18,315.49 L482.42,315.46 L483.51,315.48 L484.60,315.52 L485.69,315.59 L486.78,315.68 L487.87,315.78 L488.96,315.90 L490.05,316.06 L491.14,316.32 L492.23,316.65 L493.32,317.02 L494.41,317.43 L495.50,317.86 L496.69,318.35 L497.87,318.90 L499.06,319.50 L500.25,320.15 L501.44,320.86 L502.63,321.62 L503.82,322.42 L505.01,323.28 L506.19,324.18 L507.38,325.14 L508.57,326.14 L509.78,327.25 L510.99,328.51 L512.20,329.89 L513.41,331.39 L514.63,333.00 L515.84,334.70 L517.05,336.50 L518.26,338.37 L519.47,340.30 L520.74,342.52 L522.01,345.01 L523.28,347.69 L524.55,350.50 L525.82,353.36 L527.09,356.21 L528.32,358.95 L529.55,361.73 L530.77,364.56 L532.00,367.43 L533.22,370.37 L534.45,373.36 L535.68,376.41 L536.90,379.53 L538.02,382.44 L539.14,385.43 L540.26,388.49 L541.38,391.61 L542.50,394.79 L543.62,398.03 L544.75,401.32" fill="none" stroke-linejoin="round" stroke="#ff0000" stroke-width="2.25" stroke-linecap="round" stroke-dasharray="10.15 8.85" />
<path d="M372.38,340.96 L373.14,345.51 L373.90,348.58 L374.88,350.41 L375.86,351.73 L376.84,352.68 L377.82,353.38 L378.91,354.00 L380.00,354.52 L381.09,354.94 L382.18,355.29 L383.27,355.56 L384.54,355.82 L385.81,356.06 L387.09,356.28 L388.36,356.45 L389.63,356.57 L390.90,356.65 L392.19,356.69 L393.47,356.72 L394.76,356.76 L396.05,356.79 L397.34,356.82 L398.63,356.85 L399.91,356.88 L401.20,356.90 L402.49,356.93 L403.78,356.95 L405.06,356.97 L406.35,356.98 L407.64,357.00 L408.93,357.01 L410.21,357.03 L411.50,357.04 L412.79,357.05 L414.08,357.06 L415.37,357.06 L416.65,357.07 L417.94,357.08 L419.23,357.08 L420.52,357.09 L421.82,357.09 L423.11,357.10 L424.40,357.10 L425.70,357.10 L426.99,357.11 L428.29,357.11 L429.58,357.12 L430.87,357.12 L432.17,357.13 L433.46,357.13 L434.76,357.13 L436.05,357.14 L437.34,357.14 L438.64,357.15 L439.93,357.15 L441.23,357.15 L442.52,357.16 L443.81,357.16 L445.11,357.17 L446.40,357.17 L447.70,357.17 L448.99,357.18 L450.28,357.18 L451.58,357.18 L452.87,357.19 L454.17,357.19 L455.46,357.19 L456.75,357.20 L458.05,357.20 L459.34,357.20 L460.64,357.21 L461.93,357.21 L463.22,357.21 L464.52,357.22 L465.81,357.22 L467.11,357.22 L468.40,357.22 L469.69,357.23 L470.99,357.23 L472.28,357.23 L473.58,357.23 L474.87,357.24 L476.16,357.24 L477.46,357.24 L478.75,357.24 L480.05,357.25 L481.34,357.25 L482.63,357.25 L483.93,357.25 L485.22,357.25 L486.52,357.26 L487.81,357.26 L489.10,357.26 L490.40,357.26 L491.69,357.26 L492.99,357.27 L494.28,357.27 L495.57,357.27 L496.87,357.27 L498.16,357.27 L499.46,357.27 L500.75,357.27 L502.04,357.28 L503.34,357.28 L504.63,357.28 L505.93,357.28 L507.22,357.28 L508.51,357.28 L509.81,357.28 L511.10,357.29 L512.40,357.29 L513.69,357.29 L514.98,357.29 L516.28,357.29 L517.57,357.29 L518.87,357.29 L520.16,357.29 L521.45,357.29 L522.75,357.29 L524.04,357.29 L525.34,357.29 L526.63,357.30 L527.92,357.30 L529.22,357.30 L530.51,357.30 L531.81,357.30 L533.10,357.30 L534.39,357.30 L535.69,357.30 L536.98,357.30 L538.28,357.30 L539.57,357.30 L540.86,357.30 L542.16,357.30 L543.45,357.30 L544.75,357.30" fill="none" stroke-linejoin="round" stroke="#00ff00" stroke-width="2.25" stroke-linecap="round" stroke-dasharray="1.0 8.0" />
<path d="M372.38,340.96 L373.14,345.55 L373.90,348.58 L374.88,350.30 L375.86,351.57 L376.84,352.43 L377.82,352.94 L378.91,353.30 L380.00,353.60 L381.09,353.83 L382.18,353.98 L383.27,354.03 L384.36,353.99 L385.45,353.89 L386.54,353.74 L387.63,353.56 L388.72,353.38 L389.97,353.13 L391.21,352.83 L392.46,352.47 L393.70,352.07 L394.95,351.64 L396.19,351.20 L397.44,350.76 L398.72,350.30 L400.00,349.81 L401.28,349.31 L402.56,348.78 L403.85,348.23 L405.13,347.66 L406.41,347.09 L407.69,346.49 L408.97,345.89 L410.26,345.28 L411.54,344.67 L412.82,344.05 L414.10,343.43 L415.38,342.80 L416.66,342.18 L417.95,341.57 L419.23,340.96 L420.51,340.34 L421.79,339.72 L423.07,339.08 L424.36,338.44 L425.64,337.78 L426.92,337.13 L428.20,336.47 L429.48,335.81 L430.76,335.15 L432.05,334.49 L433.33,333.83 L434.61,333.18 L435.89,332.54 L437.17,331.90 L438.46,331.27 L439.74,330.66 L441.02,330.06 L442.30,329.46 L443.58,328.86 L444.86,328.25 L446.15,327.64 L447.43,327.03 L448.71,326.42 L449.99,325.82 L451.27,325.22 L452.56,324.64 L453.84,324.07 L455.12,323.52 L456.40,322.98 L457.68,322.47 L458.97,321.98 L460.25,321.52 L461.53,321.09 L462.81,320.69 L464.02,320.33 L465.23,319.96 L466.44,319.61 L467.65,319.27 L468.86,318.96 L470.07,318.67 L471.28,318.43 L472.50,318.22 L473.71,318.07 L474.80,317.97 L475.89,317.87 L476.97,317.78 L478.06,317.70 L479.15,317.66 L480.24,317.64 L481.33,317.67 L482.42,317.74 L483.51,317.85 L484.60,317.98 L485.69,318.13 L486.78,318.29 L488.03,318.51 L489.27,318.79 L490.52,319.13 L491.76,319.52 L493.01,319.95 L494.25,320.42 L495.50,320.91 L496.69,321.41 L497.87,321.98 L499.06,322.60 L500.25,323.27 L501.44,324.00 L502.63,324.78 L503.82,325.61 L505.01,326.49 L506.19,327.41 L507.38,328.39 L508.57,329.41 L509.78,330.54 L510.99,331.81 L512.20,333.20 L513.41,334.71 L514.63,336.33 L515.84,338.03 L517.05,339.81 L518.26,341.66 L519.47,343.57 L520.74,345.71 L522.01,348.07 L523.28,350.59 L524.55,353.25 L525.82,356.01 L527.09,358.82 L528.32,361.63 L529.55,364.56 L530.77,367.61 L532.00,370.74 L533.22,373.96 L534.45,377.23 L535.68,380.54 L536.90,383.88 L538.02,386.98 L539.14,390.14 L540.26,393.35 L541.38,396.63 L542.50,399.96 L543.62,403.34 L544.75,406.77" fill="none" stroke-linejoin="round" stroke="#0000ff" stroke-width="2.35" stroke-linecap="round" stroke-dasharray="11.45 5.35 0.4 5.3" />
</g><g clip-path="url(#cp13)">
<path d="M372.05,544.37 L545.25,544.37" fill="none" stroke="#000" stroke-width="2.1" stroke-linecap="butt"/>
<path d="M372.38,544.37 L373.65,544.35 L374.92,544.30 L376.19,544.23 L377.46,544.14 L378.73,544.04 L380.00,543.93 L381.09,543.81 L382.18,543.65 L383.27,543.46 L384.36,543.25 L385.45,543.04 L386.54,542.84 L387.79,542.62 L389.03,542.40 L390.28,542.18 L391.52,541.95 L392.77,541.72 L394.01,541.49 L395.26,541.26 L396.50,541.03 L397.75,540.79 L398.99,540.55 L400.24,540.31 L401.48,540.07 L402.73,539.82 L403.97,539.57 L405.25,539.31 L406.52,539.04 L407.79,538.76 L409.06,538.48 L410.33,538.19 L411.60,537.91 L412.87,537.62 L414.14,537.34 L415.41,537.07 L416.69,536.80 L417.96,536.55 L419.23,536.30 L420.47,536.07 L421.72,535.84 L422.96,535.61 L424.21,535.38 L425.45,535.16 L426.70,534.94 L427.94,534.72 L429.19,534.52 L430.44,534.32 L431.68,534.13 L432.93,533.94 L434.17,533.77 L435.42,533.62 L436.66,533.47 L437.93,533.32 L439.20,533.18 L440.47,533.03 L441.75,532.88 L443.02,532.74 L444.29,532.60 L445.56,532.48 L446.83,532.38 L448.10,532.29 L449.37,532.22 L450.64,532.18 L451.91,532.16 L453.19,532.17 L454.46,532.21 L455.73,532.26 L457.00,532.34 L458.27,532.42 L459.54,532.53 L460.81,532.64 L462.08,532.75 L463.36,532.88 L464.63,533.00 L465.90,533.13 L467.17,533.25 L468.44,533.38 L469.71,533.54 L470.98,533.70 L472.25,533.89 L473.52,534.08 L474.80,534.28 L476.07,534.48 L477.34,534.68 L478.61,534.88 L479.88,535.08 L481.15,535.26 L482.42,535.43 L483.61,535.59 L484.80,535.77 L485.99,535.95 L487.18,536.14 L488.37,536.32 L489.55,536.49 L490.74,536.64 L491.93,536.77 L493.12,536.87 L494.31,536.93 L495.50,536.96 L496.59,536.94 L497.68,536.89 L498.77,536.82 L499.86,536.74 L500.95,536.61 L502.03,536.43 L503.12,536.19 L504.21,535.92 L505.30,535.65 L506.39,535.36 L507.48,535.04 L508.57,534.67 L509.66,534.26 L510.75,533.80 L512.00,533.13 L513.26,532.32 L514.51,531.40 L515.76,530.42 L516.74,529.61 L517.72,528.72 L518.71,527.76 L519.69,526.71 L520.73,525.49 L521.78,524.15 L522.82,522.70 L523.87,521.15 L524.92,519.52 L526.11,517.44 L527.31,515.16 L528.51,512.81 L529.71,510.37 L530.87,507.98 L532.03,505.54 L533.20,502.96 L534.21,500.60 L535.23,498.10 L536.25,495.33 L537.48,491.45 L538.72,487.08 L539.95,482.48 L540.97,478.62 L541.99,474.55 L543.00,470.06 L543.87,465.62 L544.75,460.69" fill="none" stroke-linejoin="round" stroke="#ff0000" stroke-width="2.25" stroke-linecap="round" stroke-dasharray="10.15 8.85" />
<path d="M372.38,542.40 L373.47,543.32 L374.56,543.93 L375.65,544.22 L376.74,544.46 L377.82,544.64 L378.91,544.76 L380.00,544.80 L381.30,544.81 L382.60,544.81 L383.90,544.82 L385.19,544.82 L386.49,544.82 L387.79,544.83 L389.08,544.83 L390.38,544.84 L391.68,544.84 L392.98,544.85 L394.27,544.85 L395.57,544.85 L396.87,544.86 L398.16,544.86 L399.46,544.87 L400.76,544.87 L402.06,544.87 L403.35,544.88 L404.65,544.88 L405.95,544.89 L407.24,544.89 L408.54,544.89 L409.84,544.90 L411.14,544.90 L412.43,544.90 L413.73,544.91 L415.03,544.91 L416.32,544.91 L417.62,544.91 L418.92,544.92 L420.22,544.92 L421.51,544.92 L422.81,544.93 L424.11,544.93 L425.41,544.93 L426.70,544.93 L428.00,544.94 L429.30,544.94 L430.59,544.94 L431.89,544.94 L433.19,544.95 L434.49,544.95 L435.78,544.95 L437.08,544.95 L438.38,544.96 L439.67,544.96 L440.97,544.96 L442.27,544.96 L443.57,544.96 L444.86,544.97 L446.16,544.97 L447.46,544.97 L448.75,544.97 L450.05,544.97 L451.35,544.98 L452.65,544.98 L453.94,544.98 L455.24,544.98 L456.54,544.98 L457.83,544.98 L459.13,544.98 L460.43,544.99 L461.73,544.99 L463.02,544.99 L464.32,544.99 L465.62,544.99 L466.91,544.99 L468.21,544.99 L469.51,544.99 L470.81,545.00 L472.10,545.00 L473.40,545.00 L474.70,545.00 L476.00,545.00 L477.29,545.00 L478.59,545.00 L479.89,545.00 L481.18,545.00 L482.48,545.00 L483.78,545.01 L485.08,545.01 L486.37,545.01 L487.67,545.01 L488.97,545.01 L490.26,545.01 L491.56,545.01 L492.86,545.01 L494.16,545.01 L495.45,545.01 L496.75,545.01 L498.05,545.01 L499.34,545.01 L500.64,545.01 L501.94,545.01 L503.24,545.01 L504.53,545.01 L505.83,545.01 L507.13,545.02 L508.42,545.02 L509.72,545.02 L511.02,545.02 L512.32,545.02 L513.61,545.02 L514.91,545.02 L516.21,545.02 L517.50,545.02 L518.80,545.02 L520.10,545.02 L521.40,545.02 L522.69,545.02 L523.99,545.02 L525.29,545.02 L526.59,545.02 L527.88,545.02 L529.18,545.02 L530.48,545.02 L531.77,545.02 L533.07,545.02 L534.37,545.02 L535.67,545.02 L536.96,545.02 L538.26,545.02 L539.56,545.02 L540.85,545.02 L542.15,545.02 L543.45,545.02 L544.75,545.02" fill="none" stroke-linejoin="round" stroke="#00ff00" stroke-width="2.25" stroke-linecap="round" stroke-dasharray="1.0 8.0" />
<path d="M372.38,542.40 L373.47,543.21 L374.56,543.71 L375.65,543.93 L376.74,544.09 L377.82,544.15 L378.91,544.11 L380.00,544.00 L381.09,543.86 L382.18,543.71 L383.27,543.53 L384.36,543.31 L385.45,543.07 L386.54,542.84 L387.79,542.60 L389.03,542.36 L390.28,542.13 L391.52,541.90 L392.77,541.67 L394.01,541.44 L395.26,541.22 L396.50,540.99 L397.75,540.76 L398.99,540.53 L400.24,540.30 L401.48,540.06 L402.73,539.82 L403.97,539.57 L405.25,539.31 L406.52,539.04 L407.79,538.76 L409.06,538.48 L410.33,538.19 L411.60,537.91 L412.87,537.62 L414.14,537.34 L415.41,537.07 L416.69,536.80 L417.96,536.55 L419.23,536.30 L420.47,536.07 L421.72,535.84 L422.96,535.61 L424.21,535.38 L425.45,535.16 L426.70,534.94 L427.94,534.72 L429.19,534.52 L430.44,534.32 L431.68,534.13 L432.93,533.94 L434.17,533.77 L435.42,533.62 L436.66,533.47 L437.93,533.32 L439.20,533.18 L440.47,533.03 L441.75,532.88 L443.02,532.74 L444.29,532.60 L445.56,532.48 L446.83,532.38 L448.10,532.29 L449.37,532.22 L450.64,532.18 L451.91,532.16 L453.19,532.17 L454.46,532.21 L455.73,532.26 L457.00,532.34 L458.27,532.42 L459.54,532.53 L460.81,532.64 L462.08,532.75 L463.36,532.88 L464.63,533.00 L465.90,533.13 L467.17,533.25 L468.44,533.38 L469.71,533.54 L470.98,533.70 L472.25,533.89 L473.52,534.08 L474.80,534.28 L476.07,534.48 L477.34,534.68 L478.61,534.88 L479.88,535.08 L481.15,535.26 L482.42,535.43 L483.61,535.59 L484.80,535.77 L485.99,535.95 L487.18,536.14 L488.37,536.32 L489.55,536.49 L490.74,536.64 L491.93,536.77 L493.12,536.87 L494.31,536.93 L495.50,536.96 L496.59,536.94 L497.68,536.89 L498.77,536.82 L499.86,536.74 L500.95,536.61 L502.03,536.43 L503.12,536.19 L504.21,535.92 L505.30,535.65 L506.39,535.36 L507.48,535.04 L508.57,534.67 L509.66,534.26 L510.75,533.80 L512.00,533.13 L513.26,532.32 L514.51,531.40 L515.76,530.42 L516.74,529.61 L517.72,528.72 L518.71,527.76 L519.69,526.71 L520.73,525.49 L521.78,524.15 L522.82,522.70 L523.87,521.15 L524.92,519.52 L526.11,517.44 L527.31,515.16 L528.51,512.81 L529.71,510.37 L530.87,507.98 L532.03,505.54 L533.20,502.96 L534.21,500.60 L535.23,498.10 L536.25,495.33 L537.48,491.46 L538.72,487.11 L539.95,482.48 L540.97,478.51 L541.99,474.27 L543.00,469.62 L543.87,465.08 L544.75,460.03" fill="none" stroke-linejoin="round" stroke="#0000ff" stroke-width="2.35" stroke-linecap="round" stroke-dasharray="11.45 5.35 0.4 5.3" />
</g></g>
<g>
<g clip-path="url(#cp20)">
<path d="M611.00,175.00 L785.20,73.70" fill="none" stroke="#000" stroke-width="2.1" stroke-linecap="butt"/>
<path d="M611.00,175.00 L785.20,73.70" fill="none" stroke="#ff0000" stroke-width="2.25" stroke-linecap="round" stroke-dasharray="10.15 8.85"/>
<path d="M611.00,175.00 L785.20,73.70" fill="none" stroke="#00ff00" stroke-width="2.25" stroke-linecap="round" stroke-dasharray="1.0 8.0"/>
<path d="M611.00,175.00 L785.20,73.70" fill="none" stroke="#0000ff" stroke-width="2.35" stroke-linecap="round" stroke-dasharray="11.45 5.35 0.4 5.3"/>
</g><g clip-path="url(#cp21)">
<path d="M612.00,303.68 L785.20,303.68" fill="none" stroke="#000" stroke-width="2.1" stroke-linecap="butt"/>
<path d="M612.33,303.68 L613.60,303.68 L614.87,303.68 L616.14,303.68 L617.41,303.68 L618.68,303.68 L619.95,303.68 L621.04,303.66 L622.13,303.62 L623.22,303.56 L624.31,303.49 L625.40,303.41 L626.49,303.33 L627.70,303.22 L628.91,303.08 L630.12,302.92 L631.33,302.74 L632.54,302.54 L633.75,302.32 L634.97,302.08 L636.18,301.84 L637.39,301.58 L638.60,301.30 L638.73,301.26" fill="none" stroke-linejoin="round" stroke="#ff0000" stroke-width="2.25" stroke-linecap="round"  stroke-dasharray="9.5 5.5 6.5 50"/>
<path d="M638.73,301.26 L639.81,300.97 L641.02,300.61 L642.23,300.22 L643.44,299.81 L644.65,299.38 L645.86,298.95 L647.07,298.52 L648.28,298.10 L649.56,297.65 L650.85,297.21 L652.13,296.75 L653.41,296.30 L654.69,295.83 L655.97,295.37 L657.26,294.89 L658.54,294.42 L659.82,293.93 L661.10,293.44 L662.38,292.94 L663.66,292.44 L664.95,291.93 L666.23,291.41 L667.51,290.89 L668.79,290.36 L670.07,289.82 L671.36,289.27 L672.64,288.72 L673.92,288.16 L675.20,287.60 L676.48,287.02 L677.76,286.44 L679.05,285.85 L680.33,285.26 L681.61,284.65 L682.89,284.03 L684.17,283.40 L685.46,282.76 L686.74,282.11 L688.02,281.44 L689.30,280.76 L690.58,280.07 L691.86,279.36 L693.15,278.63 L694.43,277.88 L695.71,277.11 L696.99,276.33 L698.27,275.52 L699.56,274.70 L700.84,273.86 L702.12,273.01 L703.40,272.14 L704.68,271.25 L705.97,270.36 L707.25,269.45 L708.53,268.53 L709.81,267.60 L711.09,266.66 L712.37,265.71 L713.66,264.76 L714.94,263.79 L716.22,262.80 L717.50,261.79 L718.78,260.76 L720.07,259.72 L721.35,258.66 L722.63,257.59 L723.91,256.50 L725.19,255.41 L726.47,254.29 L727.76,253.17 L729.04,252.04 L730.32,250.89 L731.60,249.74 L732.88,248.58 L734.17,247.41 L735.45,246.23 L736.73,245.05 L738.01,243.85 L739.29,242.63 L740.57,241.40 L741.86,240.16 L743.14,238.90 L744.42,237.63 L745.70,236.35 L746.98,235.06 L748.27,233.76 L749.55,232.45 L750.83,231.14 L752.11,229.81 L753.39,228.48 L754.68,227.14 L755.96,225.79 L757.24,224.44 L758.48,223.11 L759.73,221.75 L760.97,220.37 L762.22,218.97 L763.46,217.55 L764.71,216.13 L765.96,214.70 L767.20,213.28 L768.45,211.86 L769.69,210.45 L770.94,209.06 L772.18,207.69 L773.43,206.35 L774.67,205.05 L775.92,203.76 L777.18,202.49 L778.43,201.24 L779.68,200.01 L780.94,198.80 L782.19,197.60 L783.44,196.41 L784.70,195.24" fill="none" stroke-linejoin="round" stroke="#ff0000" stroke-width="2.25" stroke-linecap="round" stroke-dasharray="10.15 8.85"/>
<path d="M612.33,299.40 L613.42,301.07 L614.51,302.24 L615.60,302.94 L616.69,303.47 L617.77,303.76 L619.02,303.93 L620.27,304.08 L621.51,304.20 L622.76,304.29 L624.00,304.36 L625.25,304.40 L626.49,304.42 L627.79,304.42 L629.08,304.42 L630.38,304.42 L631.68,304.42 L632.98,304.42 L634.27,304.42 L635.57,304.42 L636.87,304.42 L638.16,304.42 L639.46,304.42 L640.76,304.42 L642.05,304.42 L643.35,304.42 L644.65,304.42 L645.94,304.42 L647.24,304.42 L648.54,304.42 L649.83,304.42 L651.13,304.42 L652.43,304.42 L653.72,304.42 L655.02,304.42 L656.32,304.42 L657.61,304.42 L658.91,304.42 L660.21,304.42 L661.50,304.42 L662.80,304.42 L664.10,304.42 L665.39,304.42 L666.69,304.42 L667.99,304.42 L669.28,304.42 L670.58,304.42 L671.88,304.42 L673.17,304.42 L674.47,304.42 L675.77,304.42 L677.06,304.42 L678.36,304.42 L679.66,304.42 L680.96,304.42 L682.25,304.42 L683.55,304.42 L684.85,304.42 L686.14,304.42 L687.44,304.42 L688.74,304.42 L690.03,304.42 L691.33,304.42 L692.63,304.42 L693.92,304.42 L695.22,304.42 L696.52,304.42 L697.81,304.42 L699.11,304.42 L700.41,304.42 L701.70,304.42 L703.00,304.42 L704.30,304.42 L705.59,304.42 L706.89,304.42 L708.19,304.42 L709.48,304.42 L710.78,304.42 L712.08,304.42 L713.37,304.42 L714.67,304.42 L715.97,304.42 L717.26,304.42 L718.56,304.42 L719.86,304.42 L721.15,304.42 L722.45,304.42 L723.75,304.42 L725.04,304.42 L726.34,304.42 L727.64,304.42 L728.94,304.42 L730.23,304.42 L731.53,304.42 L732.83,304.42 L734.12,304.42 L735.42,304.42 L736.72,304.42 L738.01,304.42 L739.31,304.42 L740.61,304.42 L741.90,304.42 L743.20,304.42 L744.50,304.42 L745.79,304.42 L747.09,304.42 L748.39,304.42 L749.68,304.42 L750.98,304.42 L752.28,304.42 L753.57,304.42 L754.87,304.42 L756.17,304.42 L757.46,304.42 L758.76,304.42 L760.06,304.42 L761.35,304.42 L762.65,304.42 L763.95,304.42 L765.24,304.42 L766.54,304.42 L767.84,304.42 L769.13,304.42 L770.43,304.42 L771.73,304.42 L773.02,304.42 L774.32,304.42 L775.62,304.42 L776.92,304.42 L778.21,304.42 L779.51,304.42 L780.81,304.42 L782.10,304.42 L783.40,304.42 L784.70,304.42" fill="none" stroke-linejoin="round" stroke="#00ff00" stroke-width="2.25" stroke-linecap="round" stroke-dasharray="1.0 8.0" />
<path d="M612.33,299.40 L613.42,301.13 L614.51,302.24 L615.60,302.77 L616.69,303.13 L617.77,303.33 L618.86,303.42 L619.95,303.48 L621.04,303.53 L622.13,303.54 L623.22,303.50 L624.31,303.39 L625.40,303.25 L626.49,303.11 L627.70,302.95 L628.91,302.77 L630.12,302.58 L631.33,302.37 L632.54,302.14 L633.75,301.91 L634.97,301.66 L636.18,301.41 L637.39,301.15 L638.60,300.87 L639.81,300.57 L641.02,300.26 L642.23,299.93 L643.44,299.58 L644.65,299.22 L645.86,298.85 L647.07,298.48 L648.28,298.10 L649.56,297.68 L650.85,297.26 L652.13,296.82 L653.41,296.38 L654.69,295.92 L655.97,295.45 L657.26,294.98 L658.54,294.49 L659.82,294.00 L661.10,293.50 L662.38,292.99 L663.66,292.48 L664.95,291.95 L666.23,291.43 L667.51,290.89 L668.79,290.36 L670.07,289.82 L671.36,289.27 L672.64,288.72 L673.92,288.16 L675.20,287.60 L676.48,287.02 L677.76,286.44 L679.05,285.85 L680.33,285.26 L681.61,284.65 L682.89,284.03 L684.17,283.40 L685.46,282.76 L686.74,282.11 L688.02,281.44 L689.30,280.76 L690.58,280.07 L691.86,279.36 L693.15,278.63 L694.43,277.88 L695.71,277.11 L696.99,276.33 L698.27,275.52 L699.56,274.70 L700.84,273.86 L702.12,273.01 L703.40,272.14 L704.68,271.25 L705.97,270.36 L707.25,269.45 L708.53,268.53 L709.81,267.60 L711.09,266.66 L712.37,265.71 L713.66,264.76 L714.94,263.79 L716.22,262.80 L717.50,261.79 L718.78,260.76 L720.07,259.72 L721.35,258.66 L722.63,257.59 L723.91,256.50 L725.19,255.41 L726.47,254.29 L727.76,253.17 L729.04,252.04 L730.32,250.89 L731.60,249.74 L732.88,248.58 L734.17,247.41 L735.45,246.23 L736.73,245.05 L738.01,243.85 L739.29,242.63 L740.57,241.40 L741.86,240.16 L743.14,238.90 L744.42,237.63 L745.70,236.35 L746.98,235.06 L748.27,233.76 L749.55,232.45 L750.83,231.14 L752.11,229.81 L753.39,228.48 L754.68,227.14 L755.96,225.79 L757.24,224.44 L758.48,223.11 L759.73,221.76 L760.97,220.39 L762.22,218.99 L763.46,217.59 L764.71,216.18 L765.96,214.76 L767.20,213.34 L768.45,211.92 L769.69,210.52 L770.94,209.12 L772.18,207.74 L773.43,206.38 L774.67,205.05 L775.92,203.73 L777.18,202.42 L778.43,201.12 L779.68,199.84 L780.94,198.56 L782.19,197.30 L783.44,196.05 L784.70,194.81" fill="none" stroke-linejoin="round" stroke="#0000ff" stroke-width="2.35" stroke-linecap="round" stroke-dasharray="11.45 5.35 0.4 5.3" />
</g><g clip-path="url(#cp22)">
<path d="M612.00,355.99 L785.20,355.99" fill="none" stroke="#000" stroke-width="2.1" stroke-linecap="butt"/>
<path d="M612.33,355.99 L613.60,355.98 L614.87,355.96 L616.14,355.93 L617.41,355.89 L618.68,355.83 L619.95,355.77 L621.04,355.69 L622.13,355.56 L623.22,355.38 L624.31,355.17 L625.40,354.94 L626.49,354.68 L627.58,354.37 L628.67,353.97 L629.76,353.51 L630.85,353.02 L631.94,352.53 L633.03,352.07 L634.27,351.58 L635.52,351.09 L636.76,350.61 L638.01,350.12 L639.25,349.62 L640.50,349.11 L641.75,348.58 L642.99,348.03 L644.24,347.47 L645.48,346.89 L646.73,346.29 L647.97,345.69 L649.22,345.08 L650.46,344.46 L651.71,343.84 L652.95,343.21 L654.20,342.58 L655.44,341.95 L656.69,341.32 L657.93,340.70 L659.18,340.08 L660.46,339.45 L661.74,338.81 L663.02,338.16 L664.31,337.52 L665.59,336.87 L666.87,336.21 L668.15,335.56 L669.43,334.91 L670.71,334.26 L672.00,333.61 L673.28,332.96 L674.56,332.32 L675.84,331.68 L677.12,331.05 L678.41,330.42 L679.69,329.80 L680.97,329.19 L682.25,328.58 L683.53,327.96 L684.81,327.33 L686.10,326.71 L687.38,326.08 L688.66,325.45 L689.94,324.83 L691.22,324.22 L692.51,323.61 L693.79,323.02 L695.07,322.44 L696.35,321.87 L697.63,321.33 L698.92,320.80 L700.20,320.30 L701.48,319.83 L702.76,319.38 L703.97,318.97 L705.18,318.56 L706.39,318.17 L707.60,317.78 L708.81,317.42 L710.02,317.08 L711.23,316.79 L712.45,316.53 L713.66,316.33 L714.90,316.15 L716.15,315.97 L717.39,315.81 L718.64,315.67 L719.88,315.56 L721.13,315.49 L722.37,315.46 L723.46,315.48 L724.55,315.52 L725.64,315.59 L726.73,315.68 L727.82,315.78 L728.91,315.90 L730.00,316.06 L731.09,316.32 L732.18,316.65 L733.27,317.02 L734.36,317.43 L735.45,317.86 L736.64,318.35 L737.82,318.90 L739.01,319.50 L740.20,320.15 L741.39,320.86 L742.58,321.62 L743.77,322.42 L744.96,323.28 L746.14,324.18 L747.33,325.14 L748.52,326.14 L749.73,327.25 L750.94,328.51 L752.15,329.89 L753.36,331.39 L754.58,333.00 L755.79,334.70 L757.00,336.50 L758.21,338.37 L759.42,340.30 L760.69,342.52 L761.96,345.01 L763.23,347.69 L764.50,350.50 L765.77,353.36 L767.04,356.21 L768.27,358.95 L769.50,361.73 L770.72,364.56 L771.95,367.43 L773.17,370.37 L774.40,373.36 L775.63,376.41 L776.85,379.53 L777.97,382.44 L779.09,385.43 L780.21,388.49 L781.33,391.61 L782.45,394.79 L783.57,398.03 L784.70,401.32" fill="none" stroke-linejoin="round" stroke="#ff0000" stroke-width="2.25" stroke-linecap="round" stroke-dasharray="10.15 8.85" />
<path d="M612.33,353.38 L613.42,354.53 L614.51,355.34 L615.60,355.84 L616.69,356.22 L617.77,356.43 L619.02,356.54 L620.27,356.64 L621.51,356.72 L622.76,356.78 L624.00,356.83 L625.25,356.85 L626.49,356.86 L627.79,356.86 L629.08,356.86 L630.38,356.86 L631.68,356.86 L632.98,356.86 L634.27,356.86 L635.57,356.86 L636.87,356.86 L638.16,356.86 L639.46,356.86 L640.76,356.86 L642.05,356.86 L643.35,356.86 L644.65,356.86 L645.94,356.86 L647.24,356.86 L648.54,356.86 L649.83,356.86 L651.13,356.86 L652.43,356.86 L653.72,356.86 L655.02,356.86 L656.32,356.86 L657.61,356.86 L658.91,356.86 L660.21,356.86 L661.50,356.86 L662.80,356.86 L664.10,356.86 L665.39,356.86 L666.69,356.86 L667.99,356.86 L669.28,356.86 L670.58,356.86 L671.88,356.86 L673.17,356.86 L674.47,356.86 L675.77,356.86 L677.06,356.86 L678.36,356.86 L679.66,356.86 L680.96,356.86 L682.25,356.86 L683.55,356.86 L684.85,356.86 L686.14,356.86 L687.44,356.86 L688.74,356.86 L690.03,356.86 L691.33,356.86 L692.63,356.86 L693.92,356.86 L695.22,356.86 L696.52,356.86 L697.81,356.86 L699.11,356.86 L700.41,356.86 L701.70,356.86 L703.00,356.86 L704.30,356.86 L705.59,356.86 L706.89,356.86 L708.19,356.86 L709.48,356.86 L710.78,356.86 L712.08,356.86 L713.37,356.86 L714.67,356.86 L715.97,356.86 L717.26,356.86 L718.56,356.86 L719.86,356.86 L721.15,356.86 L722.45,356.86 L723.75,356.86 L725.04,356.86 L726.34,356.86 L727.64,356.86 L728.94,356.86 L730.23,356.86 L731.53,356.86 L732.83,356.86 L734.12,356.86 L735.42,356.86 L736.72,356.86 L738.01,356.86 L739.31,356.86 L740.61,356.86 L741.90,356.86 L743.20,356.86 L744.50,356.86 L745.79,356.86 L747.09,356.86 L748.39,356.86 L749.68,356.86 L750.98,356.86 L752.28,356.86 L753.57,356.86 L754.87,356.86 L756.17,356.86 L757.46,356.86 L758.76,356.86 L760.06,356.86 L761.35,356.86 L762.65,356.86 L763.95,356.86 L765.24,356.86 L766.54,356.86 L767.84,356.86 L769.13,356.86 L770.43,356.86 L771.73,356.86 L773.02,356.86 L774.32,356.86 L775.62,356.86 L776.92,356.86 L778.21,356.86 L779.51,356.86 L780.81,356.86 L782.10,356.86 L783.40,356.86 L784.70,356.86" fill="none" stroke-linejoin="round" stroke="#00ff00" stroke-width="2.25" stroke-linecap="round" stroke-dasharray="1.0 8.0" />
<path d="M612.33,353.38 L613.42,354.44 L614.51,355.12 L615.60,355.45 L616.69,355.68 L617.77,355.77 L618.86,355.76 L619.95,355.71 L621.04,355.64 L622.13,355.56 L623.22,355.42 L624.31,355.22 L625.40,354.96 L626.49,354.68 L627.58,354.35 L628.67,353.95 L629.76,353.49 L630.85,353.01 L631.94,352.53 L633.03,352.07 L634.27,351.58 L635.52,351.09 L636.76,350.61 L638.01,350.12 L639.25,349.62 L640.50,349.11 L641.75,348.58 L642.99,348.03 L644.24,347.47 L645.48,346.89 L646.73,346.29 L647.97,345.69 L649.22,345.08 L650.46,344.46 L651.71,343.84 L652.95,343.21 L654.20,342.58 L655.44,341.95 L656.69,341.32 L657.93,340.70 L659.18,340.08 L660.46,339.45 L661.74,338.81 L663.02,338.16 L664.31,337.52 L665.59,336.87 L666.87,336.21 L668.15,335.56 L669.43,334.91 L670.71,334.26 L672.00,333.61 L673.28,332.96 L674.56,332.32 L675.84,331.68 L677.12,331.05 L678.41,330.42 L679.69,329.80 L680.97,329.19 L682.25,328.58 L683.53,327.96 L684.81,327.33 L686.10,326.71 L687.38,326.08 L688.66,325.45 L689.94,324.83 L691.22,324.22 L692.51,323.61 L693.79,323.02 L695.07,322.44 L696.35,321.87 L697.63,321.33 L698.92,320.80 L700.20,320.30 L701.48,319.83 L702.76,319.38 L703.97,318.97 L705.18,318.56 L706.39,318.17 L707.60,317.78 L708.81,317.42 L710.02,317.08 L711.23,316.79 L712.45,316.53 L713.66,316.33 L714.90,316.15 L716.15,315.97 L717.39,315.81 L718.64,315.67 L719.88,315.56 L721.13,315.49 L722.37,315.46 L723.46,315.48 L724.55,315.52 L725.64,315.59 L726.73,315.68 L727.82,315.78 L728.91,315.90 L730.00,316.06 L731.09,316.32 L732.18,316.65 L733.27,317.02 L734.36,317.43 L735.45,317.86 L736.64,318.35 L737.82,318.90 L739.01,319.50 L740.20,320.15 L741.39,320.86 L742.58,321.62 L743.77,322.42 L744.96,323.28 L746.14,324.18 L747.33,325.14 L748.52,326.14 L749.73,327.25 L750.94,328.51 L752.15,329.89 L753.36,331.39 L754.58,333.00 L755.79,334.70 L757.00,336.50 L758.21,338.37 L759.42,340.30 L760.69,342.52 L761.96,345.01 L763.23,347.69 L764.50,350.50 L765.77,353.36 L767.04,356.21 L768.27,358.94 L769.50,361.71 L770.72,364.52 L771.95,367.39 L773.17,370.32 L774.40,373.31 L775.63,376.38 L776.85,379.53 L777.97,382.49 L779.09,385.55 L780.21,388.69 L781.33,391.91 L782.45,395.20 L783.57,398.55 L784.70,401.97" fill="none" stroke-linejoin="round" stroke="#0000ff" stroke-width="2.35" stroke-linecap="round" stroke-dasharray="11.45 5.35 0.4 5.3" />
</g><g clip-path="url(#cp23)">
<path d="M612.00,544.37 L785.20,544.37" fill="none" stroke="#000" stroke-width="2.1" stroke-linecap="butt"/>
<path d="M612.33,544.37 L613.60,544.35 L614.87,544.30 L616.14,544.23 L617.41,544.14 L618.68,544.04 L619.95,543.93 L621.04,543.81 L622.13,543.65 L623.22,543.46 L624.31,543.25 L625.40,543.04 L626.49,542.84 L627.74,542.62 L628.98,542.40 L630.23,542.18 L631.47,541.95 L632.72,541.72 L633.96,541.49 L635.21,541.26 L636.45,541.03 L637.70,540.79 L638.94,540.55 L640.19,540.31 L641.43,540.07 L642.68,539.82 L643.92,539.57 L645.20,539.31 L646.47,539.04 L647.74,538.76 L649.01,538.48 L650.28,538.19 L651.55,537.91 L652.82,537.62 L654.09,537.34 L655.36,537.07 L656.64,536.80 L657.91,536.55 L659.18,536.30 L660.42,536.07 L661.67,535.84 L662.91,535.61 L664.16,535.38 L665.40,535.16 L666.65,534.94 L667.89,534.72 L669.14,534.52 L670.39,534.32 L671.63,534.13 L672.88,533.94 L674.12,533.77 L675.37,533.62 L676.61,533.47 L677.88,533.32 L679.15,533.18 L680.42,533.03 L681.70,532.88 L682.97,532.74 L684.24,532.60 L685.51,532.48 L686.78,532.38 L688.05,532.29 L689.32,532.22 L690.59,532.18 L691.86,532.16 L693.14,532.17 L694.41,532.21 L695.68,532.26 L696.95,532.34 L698.22,532.42 L699.49,532.53 L700.76,532.64 L702.03,532.75 L703.31,532.88 L704.58,533.00 L705.85,533.13 L707.12,533.25 L708.39,533.38 L709.66,533.54 L710.93,533.70 L712.20,533.89 L713.47,534.08 L714.75,534.28 L716.02,534.48 L717.29,534.68 L718.56,534.88 L719.83,535.08 L721.10,535.26 L722.37,535.43 L723.56,535.59 L724.75,535.77 L725.94,535.95 L727.13,536.14 L728.32,536.32 L729.50,536.49 L730.69,536.64 L731.88,536.77 L733.07,536.87 L734.26,536.93 L735.45,536.96 L736.54,536.94 L737.63,536.89 L738.72,536.82 L739.81,536.74 L740.90,536.61 L741.98,536.43 L743.07,536.19 L744.16,535.92 L745.25,535.65 L746.34,535.36 L747.43,535.04 L748.52,534.67 L749.61,534.26 L750.70,533.80 L751.95,533.13 L753.21,532.32 L754.46,531.40 L755.71,530.42 L756.69,529.61 L757.67,528.72 L758.66,527.76 L759.64,526.71 L760.68,525.49 L761.73,524.15 L762.77,522.70 L763.82,521.15 L764.87,519.52 L766.06,517.44 L767.26,515.16 L768.46,512.81 L769.66,510.37 L770.82,507.98 L771.98,505.54 L773.15,502.96 L774.16,500.60 L775.18,498.10 L776.20,495.33 L777.43,491.45 L778.67,487.08 L779.90,482.48 L780.92,478.62 L781.94,474.55 L782.95,470.06 L783.82,465.62 L784.70,460.69" fill="none" stroke-linejoin="round" stroke="#ff0000" stroke-width="2.25" stroke-linecap="round" stroke-dasharray="10.15 8.85" />
<path d="M612.33,544.37 L784.70,544.80" fill="none" stroke-linejoin="round" stroke="#00ff00" stroke-width="2.25" stroke-linecap="round" stroke-dasharray="1.0 8.0" />
<path d="M612.33,544.15 L613.60,544.14 L614.87,544.12 L616.14,544.09 L617.41,544.04 L618.68,543.99 L619.95,543.93 L621.04,543.84 L622.13,543.68 L623.22,543.49 L624.31,543.27 L625.40,543.05 L626.49,542.84 L627.74,542.62 L628.98,542.40 L630.23,542.18 L631.47,541.95 L632.72,541.72 L633.96,541.49 L635.21,541.26 L636.45,541.03 L637.70,540.79 L638.94,540.55 L640.19,540.31 L641.43,540.07 L642.68,539.82 L643.92,539.57 L645.20,539.31 L646.47,539.04 L647.74,538.76 L649.01,538.48 L650.28,538.19 L651.55,537.91 L652.82,537.62 L654.09,537.34 L655.36,537.07 L656.64,536.80 L657.91,536.55 L659.18,536.30 L660.42,536.07 L661.67,535.84 L662.91,535.61 L664.16,535.38 L665.40,535.16 L666.65,534.94 L667.89,534.72 L669.14,534.52 L670.39,534.32 L671.63,534.13 L672.88,533.94 L674.12,533.77 L675.37,533.62 L676.61,533.47 L677.88,533.32 L679.15,533.18 L680.42,533.03 L681.70,532.88 L682.97,532.74 L684.24,532.60 L685.51,532.48 L686.78,532.38 L688.05,532.29 L689.32,532.22 L690.59,532.18 L691.86,532.16 L693.14,532.17 L694.41,532.21 L695.68,532.26 L696.95,532.34 L698.22,532.42 L699.49,532.53 L700.76,532.64 L702.03,532.75 L703.31,532.88 L704.58,533.00 L705.85,533.13 L707.12,533.25 L708.39,533.38 L709.66,533.54 L710.93,533.70 L712.20,533.89 L713.47,534.08 L714.75,534.28 L716.02,534.48 L717.29,534.68 L718.56,534.88 L719.83,535.08 L721.10,535.26 L722.37,535.43 L723.56,535.59 L724.75,535.77 L725.94,535.95 L727.13,536.14 L728.32,536.32 L729.50,536.49 L730.69,536.64 L731.88,536.77 L733.07,536.87 L734.26,536.93 L735.45,536.96 L736.54,536.94 L737.63,536.89 L738.72,536.82 L739.81,536.74 L740.90,536.61 L741.98,536.43 L743.07,536.19 L744.16,535.92 L745.25,535.65 L746.34,535.36 L747.43,535.04 L748.52,534.67 L749.61,534.26 L750.70,533.80 L751.95,533.13 L753.21,532.32 L754.46,531.40 L755.71,530.42 L756.69,529.61 L757.67,528.72 L758.66,527.76 L759.64,526.71 L760.68,525.49 L761.73,524.15 L762.77,522.70 L763.82,521.15 L764.87,519.52 L766.06,517.44 L767.26,515.16 L768.46,512.81 L769.66,510.37 L770.82,507.98 L771.98,505.54 L773.15,502.96 L774.16,500.60 L775.18,498.10 L776.20,495.33 L777.43,491.45 L778.67,487.08 L779.90,482.48 L780.92,478.62 L781.94,474.55 L782.95,470.06 L783.82,465.62 L784.70,460.69" fill="none" stroke-linejoin="round" stroke="#0000ff" stroke-width="2.35" stroke-linecap="round" stroke-dasharray="11.45 5.35 0.4 5.3" />
</g></g>
<g stroke="#4a4a4a" stroke-width="1" fill="none">
<rect x="130.90" y="65.50" width="174.70" height="489.80"/>
<path d="M130.90,187.95 v-3.00"/>
<path d="M148.37,187.95 v-1.70"/>
<path d="M165.84,187.95 v-3.00"/>
<path d="M183.31,187.95 v-1.70"/>
<path d="M200.78,187.95 v-3.00"/>
<path d="M218.25,187.95 v-1.70"/>
<path d="M235.72,187.95 v-3.00"/>
<path d="M253.19,187.95 v-1.70"/>
<path d="M270.66,187.95 v-3.00"/>
<path d="M288.13,187.95 v-1.70"/>
<path d="M305.60,187.95 v-3.00"/>
<path d="M130.90,175.70 h-3.00"/>
<path d="M130.90,163.46 h-1.70"/>
<path d="M130.90,151.21 h-3.00"/>
<path d="M130.90,138.97 h-1.70"/>
<path d="M130.90,126.72 h-3.00"/>
<path d="M130.90,114.48 h-1.70"/>
<path d="M130.90,102.23 h-3.00"/>
<path d="M130.90,89.99 h-1.70"/>
<path d="M130.90,77.74 h-3.00"/>
<path d="M130.90,65.50 h-1.70"/>
<path d="M130.90,187.95 h174.70"/>
<path d="M130.90,310.50 v-3.00"/>
<path d="M148.37,310.50 v-1.70"/>
<path d="M165.84,310.50 v-3.00"/>
<path d="M183.31,310.50 v-1.70"/>
<path d="M200.78,310.50 v-3.00"/>
<path d="M218.25,310.50 v-1.70"/>
<path d="M235.72,310.50 v-3.00"/>
<path d="M253.19,310.50 v-1.70"/>
<path d="M270.66,310.50 v-3.00"/>
<path d="M288.13,310.50 v-1.70"/>
<path d="M305.60,310.50 v-3.00"/>
<path d="M130.90,310.50 h-3.00"/>
<path d="M130.90,295.18 h-1.70"/>
<path d="M130.90,279.86 h-3.00"/>
<path d="M130.90,264.54 h-1.70"/>
<path d="M130.90,249.23 h-3.00"/>
<path d="M130.90,233.91 h-1.70"/>
<path d="M130.90,218.59 h-3.00"/>
<path d="M130.90,203.27 h-1.70"/>
<path d="M130.90,187.95 h-3.00"/>
<path d="M130.90,310.50 h174.70"/>
<path d="M130.90,433.30 v-3.00"/>
<path d="M148.37,433.30 v-1.70"/>
<path d="M165.84,433.30 v-3.00"/>
<path d="M183.31,433.30 v-1.70"/>
<path d="M200.78,433.30 v-3.00"/>
<path d="M218.25,433.30 v-1.70"/>
<path d="M235.72,433.30 v-3.00"/>
<path d="M253.19,433.30 v-1.70"/>
<path d="M270.66,433.30 v-3.00"/>
<path d="M288.13,433.30 v-1.70"/>
<path d="M305.60,433.30 v-3.00"/>
<path d="M130.90,433.30 h-3.00"/>
<path d="M130.90,420.37 h-1.70"/>
<path d="M130.90,407.45 h-3.00"/>
<path d="M130.90,394.52 h-1.70"/>
<path d="M130.90,381.59 h-3.00"/>
<path d="M130.90,368.67 h-1.70"/>
<path d="M130.90,355.74 h-3.00"/>
<path d="M130.90,342.82 h-1.70"/>
<path d="M130.90,329.89 h-3.00"/>
<path d="M130.90,316.96 h-1.70"/>
<path d="M130.90,433.30 h174.70"/>
<path d="M130.90,555.30 v-3.00"/>
<path d="M148.37,555.30 v-1.70"/>
<path d="M165.84,555.30 v-3.00"/>
<path d="M183.31,555.30 v-1.70"/>
<path d="M200.78,555.30 v-3.00"/>
<path d="M218.25,555.30 v-1.70"/>
<path d="M235.72,555.30 v-3.00"/>
<path d="M253.19,555.30 v-1.70"/>
<path d="M270.66,555.30 v-3.00"/>
<path d="M288.13,555.30 v-1.70"/>
<path d="M305.60,555.30 v-3.00"/>
<path d="M130.90,547.67 h-3.00"/>
<path d="M130.90,532.42 h-1.70"/>
<path d="M130.90,517.17 h-3.00"/>
<path d="M130.90,501.92 h-1.70"/>
<path d="M130.90,486.67 h-3.00"/>
<path d="M130.90,471.43 h-1.70"/>
<path d="M130.90,456.18 h-3.00"/>
<path d="M130.90,440.93 h-1.70"/>
</g>
<text transform="translate(126.70,179.50) scale(0.8550,1)" font-family='"Liberation Sans", sans-serif' font-size="14.75" fill="#000" text-anchor="end">0.0000</text>
<text transform="translate(126.70,155.01) scale(0.8550,1)" font-family='"Liberation Sans", sans-serif' font-size="14.75" fill="#000" text-anchor="end">0.0002</text>
<text transform="translate(126.70,130.53) scale(0.8550,1)" font-family='"Liberation Sans", sans-serif' font-size="14.75" fill="#000" text-anchor="end">0.0004</text>
<text transform="translate(126.70,106.03) scale(0.8550,1)" font-family='"Liberation Sans", sans-serif' font-size="14.75" fill="#000" text-anchor="end">0.0006</text>
<text transform="translate(126.70,81.54) scale(0.8550,1)" font-family='"Liberation Sans", sans-serif' font-size="14.75" fill="#000" text-anchor="end">0.0008</text>
<text transform="translate(126.70,314.30) scale(0.8550,1)" font-family='"Liberation Sans", sans-serif' font-size="14.75" fill="#000" text-anchor="end">0.7</text>
<text transform="translate(126.70,283.66) scale(0.8550,1)" font-family='"Liberation Sans", sans-serif' font-size="14.75" fill="#000" text-anchor="end">0.8</text>
<text transform="translate(126.70,253.03) scale(0.8550,1)" font-family='"Liberation Sans", sans-serif' font-size="14.75" fill="#000" text-anchor="end">0.9</text>
<text transform="translate(126.70,222.39) scale(0.8550,1)" font-family='"Liberation Sans", sans-serif' font-size="14.75" fill="#000" text-anchor="end">1.0</text>
<text transform="translate(126.70,191.75) scale(0.8550,1)" font-family='"Liberation Sans", sans-serif' font-size="14.75" fill="#000" text-anchor="end">1.1</text>
<text transform="translate(126.70,437.10) scale(0.8550,1)" font-family='"Liberation Sans", sans-serif' font-size="14.75" fill="#000" text-anchor="end">-0.2</text>
<text transform="translate(126.70,411.25) scale(0.8550,1)" font-family='"Liberation Sans", sans-serif' font-size="14.75" fill="#000" text-anchor="end">0.0</text>
<text transform="translate(126.70,385.39) scale(0.8550,1)" font-family='"Liberation Sans", sans-serif' font-size="14.75" fill="#000" text-anchor="end">0.2</text>
<text transform="translate(126.70,359.54) scale(0.8550,1)" font-family='"Liberation Sans", sans-serif' font-size="14.75" fill="#000" text-anchor="end">0.4</text>
<text transform="translate(126.70,333.69) scale(0.8550,1)" font-family='"Liberation Sans", sans-serif' font-size="14.75" fill="#000" text-anchor="end">0.6</text>
<text transform="translate(126.70,551.47) scale(0.8550,1)" font-family='"Liberation Sans", sans-serif' font-size="14.75" fill="#000" text-anchor="end">0</text>
<text transform="translate(126.70,520.97) scale(0.8550,1)" font-family='"Liberation Sans", sans-serif' font-size="14.75" fill="#000" text-anchor="end">1</text>
<text transform="translate(126.70,490.47) scale(0.8550,1)" font-family='"Liberation Sans", sans-serif' font-size="14.75" fill="#000" text-anchor="end">2</text>
<text transform="translate(126.70,459.98) scale(0.8550,1)" font-family='"Liberation Sans", sans-serif' font-size="14.75" fill="#000" text-anchor="end">3</text>
<text transform="translate(130.90,569.00) scale(0.8550,1)" font-family='"Liberation Sans", sans-serif' font-size="14.75" fill="#000" text-anchor="middle">0.000</text>
<text transform="translate(165.84,569.00) scale(0.8550,1)" font-family='"Liberation Sans", sans-serif' font-size="14.75" fill="#000" text-anchor="middle">0.002</text>
<text transform="translate(200.78,569.00) scale(0.8550,1)" font-family='"Liberation Sans", sans-serif' font-size="14.75" fill="#000" text-anchor="middle">0.004</text>
<text transform="translate(235.72,569.00) scale(0.8550,1)" font-family='"Liberation Sans", sans-serif' font-size="14.75" fill="#000" text-anchor="middle">0.006</text>
<text transform="translate(270.66,569.00) scale(0.8550,1)" font-family='"Liberation Sans", sans-serif' font-size="14.75" fill="#000" text-anchor="middle">0.008</text>
<text transform="translate(305.60,569.00) scale(0.8550,1)" font-family='"Liberation Sans", sans-serif' font-size="14.75" fill="#000" text-anchor="middle">0.010</text>
<g stroke="#4a4a4a" stroke-width="1" fill="none">
<rect x="370.55" y="65.50" width="174.70" height="489.80"/>
<path d="M370.55,187.95 v-3.00"/>
<path d="M388.02,187.95 v-1.70"/>
<path d="M405.49,187.95 v-3.00"/>
<path d="M422.96,187.95 v-1.70"/>
<path d="M440.43,187.95 v-3.00"/>
<path d="M457.90,187.95 v-1.70"/>
<path d="M475.37,187.95 v-3.00"/>
<path d="M492.84,187.95 v-1.70"/>
<path d="M510.31,187.95 v-3.00"/>
<path d="M527.78,187.95 v-1.70"/>
<path d="M545.25,187.95 v-3.00"/>
<path d="M370.55,175.70 h-3.00"/>
<path d="M370.55,163.46 h-1.70"/>
<path d="M370.55,151.21 h-3.00"/>
<path d="M370.55,138.97 h-1.70"/>
<path d="M370.55,126.72 h-3.00"/>
<path d="M370.55,114.48 h-1.70"/>
<path d="M370.55,102.23 h-3.00"/>
<path d="M370.55,89.99 h-1.70"/>
<path d="M370.55,77.74 h-3.00"/>
<path d="M370.55,65.50 h-1.70"/>
<path d="M370.55,187.95 h174.70"/>
<path d="M370.55,310.50 v-3.00"/>
<path d="M388.02,310.50 v-1.70"/>
<path d="M405.49,310.50 v-3.00"/>
<path d="M422.96,310.50 v-1.70"/>
<path d="M440.43,310.50 v-3.00"/>
<path d="M457.90,310.50 v-1.70"/>
<path d="M475.37,310.50 v-3.00"/>
<path d="M492.84,310.50 v-1.70"/>
<path d="M510.31,310.50 v-3.00"/>
<path d="M527.78,310.50 v-1.70"/>
<path d="M545.25,310.50 v-3.00"/>
<path d="M370.55,310.50 h-3.00"/>
<path d="M370.55,295.18 h-1.70"/>
<path d="M370.55,279.86 h-3.00"/>
<path d="M370.55,264.54 h-1.70"/>
<path d="M370.55,249.23 h-3.00"/>
<path d="M370.55,233.91 h-1.70"/>
<path d="M370.55,218.59 h-3.00"/>
<path d="M370.55,203.27 h-1.70"/>
<path d="M370.55,187.95 h-3.00"/>
<path d="M370.55,310.50 h174.70"/>
<path d="M370.55,433.30 v-3.00"/>
<path d="M388.02,433.30 v-1.70"/>
<path d="M405.49,433.30 v-3.00"/>
<path d="M422.96,433.30 v-1.70"/>
<path d="M440.43,433.30 v-3.00"/>
<path d="M457.90,433.30 v-1.70"/>
<path d="M475.37,433.30 v-3.00"/>
<path d="M492.84,433.30 v-1.70"/>
<path d="M510.31,433.30 v-3.00"/>
<path d="M527.78,433.30 v-1.70"/>
<path d="M545.25,433.30 v-3.00"/>
<path d="M370.55,433.30 h-3.00"/>
<path d="M370.55,420.37 h-1.70"/>
<path d="M370.55,407.45 h-3.00"/>
<path d="M370.55,394.52 h-1.70"/>
<path d="M370.55,381.59 h-3.00"/>
<path d="M370.55,368.67 h-1.70"/>
<path d="M370.55,355.74 h-3.00"/>
<path d="M370.55,342.82 h-1.70"/>
<path d="M370.55,329.89 h-3.00"/>
<path d="M370.55,316.96 h-1.70"/>
<path d="M370.55,433.30 h174.70"/>
<path d="M370.55,555.30 v-3.00"/>
<path d="M388.02,555.30 v-1.70"/>
<path d="M405.49,555.30 v-3.00"/>
<path d="M422.96,555.30 v-1.70"/>
<path d="M440.43,555.30 v-3.00"/>
<path d="M457.90,555.30 v-1.70"/>
<path d="M475.37,555.30 v-3.00"/>
<path d="M492.84,555.30 v-1.70"/>
<path d="M510.31,555.30 v-3.00"/>
<path d="M527.78,555.30 v-1.70"/>
<path d="M545.25,555.30 v-3.00"/>
<path d="M370.55,547.67 h-3.00"/>
<path d="M370.55,532.42 h-1.70"/>
<path d="M370.55,517.17 h-3.00"/>
<path d="M370.55,501.92 h-1.70"/>
<path d="M370.55,486.67 h-3.00"/>
<path d="M370.55,471.43 h-1.70"/>
<path d="M370.55,456.18 h-3.00"/>
<path d="M370.55,440.93 h-1.70"/>
</g>
<text transform="translate(366.35,179.50) scale(0.8550,1)" font-family='"Liberation Sans", sans-serif' font-size="14.75" fill="#000" text-anchor="end">0.0000</text>
<text transform="translate(366.35,155.01) scale(0.8550,1)" font-family='"Liberation Sans", sans-serif' font-size="14.75" fill="#000" text-anchor="end">0.0002</text>
<text transform="translate(366.35,130.53) scale(0.8550,1)" font-family='"Liberation Sans", sans-serif' font-size="14.75" fill="#000" text-anchor="end">0.0004</text>
<text transform="translate(366.35,106.03) scale(0.8550,1)" font-family='"Liberation Sans", sans-serif' font-size="14.75" fill="#000" text-anchor="end">0.0006</text>
<text transform="translate(366.35,81.54) scale(0.8550,1)" font-family='"Liberation Sans", sans-serif' font-size="14.75" fill="#000" text-anchor="end">0.0008</text>
<text transform="translate(366.35,314.30) scale(0.8550,1)" font-family='"Liberation Sans", sans-serif' font-size="14.75" fill="#000" text-anchor="end">0.7</text>
<text transform="translate(366.35,283.66) scale(0.8550,1)" font-family='"Liberation Sans", sans-serif' font-size="14.75" fill="#000" text-anchor="end">0.8</text>
<text transform="translate(366.35,253.03) scale(0.8550,1)" font-family='"Liberation Sans", sans-serif' font-size="14.75" fill="#000" text-anchor="end">0.9</text>
<text transform="translate(366.35,222.39) scale(0.8550,1)" font-family='"Liberation Sans", sans-serif' font-size="14.75" fill="#000" text-anchor="end">1.0</text>
<text transform="translate(366.35,191.75) scale(0.8550,1)" font-family='"Liberation Sans", sans-serif' font-size="14.75" fill="#000" text-anchor="end">1.1</text>
<text transform="translate(366.35,437.10) scale(0.8550,1)" font-family='"Liberation Sans", sans-serif' font-size="14.75" fill="#000" text-anchor="end">-0.2</text>
<text transform="translate(366.35,411.25) scale(0.8550,1)" font-family='"Liberation Sans", sans-serif' font-size="14.75" fill="#000" text-anchor="end">0.0</text>
<text transform="translate(366.35,385.39) scale(0.8550,1)" font-family='"Liberation Sans", sans-serif' font-size="14.75" fill="#000" text-anchor="end">0.2</text>
<text transform="translate(366.35,359.54) scale(0.8550,1)" font-family='"Liberation Sans", sans-serif' font-size="14.75" fill="#000" text-anchor="end">0.4</text>
<text transform="translate(366.35,333.69) scale(0.8550,1)" font-family='"Liberation Sans", sans-serif' font-size="14.75" fill="#000" text-anchor="end">0.6</text>
<text transform="translate(366.35,551.47) scale(0.8550,1)" font-family='"Liberation Sans", sans-serif' font-size="14.75" fill="#000" text-anchor="end">0</text>
<text transform="translate(366.35,520.97) scale(0.8550,1)" font-family='"Liberation Sans", sans-serif' font-size="14.75" fill="#000" text-anchor="end">1</text>
<text transform="translate(366.35,490.47) scale(0.8550,1)" font-family='"Liberation Sans", sans-serif' font-size="14.75" fill="#000" text-anchor="end">2</text>
<text transform="translate(366.35,459.98) scale(0.8550,1)" font-family='"Liberation Sans", sans-serif' font-size="14.75" fill="#000" text-anchor="end">3</text>
<text transform="translate(370.55,569.00) scale(0.8550,1)" font-family='"Liberation Sans", sans-serif' font-size="14.75" fill="#000" text-anchor="middle">0.000</text>
<text transform="translate(405.49,569.00) scale(0.8550,1)" font-family='"Liberation Sans", sans-serif' font-size="14.75" fill="#000" text-anchor="middle">0.002</text>
<text transform="translate(440.43,569.00) scale(0.8550,1)" font-family='"Liberation Sans", sans-serif' font-size="14.75" fill="#000" text-anchor="middle">0.004</text>
<text transform="translate(475.37,569.00) scale(0.8550,1)" font-family='"Liberation Sans", sans-serif' font-size="14.75" fill="#000" text-anchor="middle">0.006</text>
<text transform="translate(510.31,569.00) scale(0.8550,1)" font-family='"Liberation Sans", sans-serif' font-size="14.75" fill="#000" text-anchor="middle">0.008</text>
<text transform="translate(545.25,569.00) scale(0.8550,1)" font-family='"Liberation Sans", sans-serif' font-size="14.75" fill="#000" text-anchor="middle">0.010</text>
<g stroke="#4a4a4a" stroke-width="1" fill="none">
<rect x="610.50" y="65.50" width="174.70" height="489.80"/>
<path d="M610.50,187.95 v-3.00"/>
<path d="M627.97,187.95 v-1.70"/>
<path d="M645.44,187.95 v-3.00"/>
<path d="M662.91,187.95 v-1.70"/>
<path d="M680.38,187.95 v-3.00"/>
<path d="M697.85,187.95 v-1.70"/>
<path d="M715.32,187.95 v-3.00"/>
<path d="M732.79,187.95 v-1.70"/>
<path d="M750.26,187.95 v-3.00"/>
<path d="M767.73,187.95 v-1.70"/>
<path d="M785.20,187.95 v-3.00"/>
<path d="M610.50,175.70 h-3.00"/>
<path d="M610.50,163.46 h-1.70"/>
<path d="M610.50,151.21 h-3.00"/>
<path d="M610.50,138.97 h-1.70"/>
<path d="M610.50,126.72 h-3.00"/>
<path d="M610.50,114.48 h-1.70"/>
<path d="M610.50,102.23 h-3.00"/>
<path d="M610.50,89.99 h-1.70"/>
<path d="M610.50,77.74 h-3.00"/>
<path d="M610.50,65.50 h-1.70"/>
<path d="M610.50,187.95 h174.70"/>
<path d="M610.50,310.50 v-3.00"/>
<path d="M627.97,310.50 v-1.70"/>
<path d="M645.44,310.50 v-3.00"/>
<path d="M662.91,310.50 v-1.70"/>
<path d="M680.38,310.50 v-3.00"/>
<path d="M697.85,310.50 v-1.70"/>
<path d="M715.32,310.50 v-3.00"/>
<path d="M732.79,310.50 v-1.70"/>
<path d="M750.26,310.50 v-3.00"/>
<path d="M767.73,310.50 v-1.70"/>
<path d="M785.20,310.50 v-3.00"/>
<path d="M610.50,310.50 h-3.00"/>
<path d="M610.50,295.18 h-1.70"/>
<path d="M610.50,279.86 h-3.00"/>
<path d="M610.50,264.54 h-1.70"/>
<path d="M610.50,249.23 h-3.00"/>
<path d="M610.50,233.91 h-1.70"/>
<path d="M610.50,218.59 h-3.00"/>
<path d="M610.50,203.27 h-1.70"/>
<path d="M610.50,187.95 h-3.00"/>
<path d="M610.50,310.50 h174.70"/>
<path d="M610.50,433.30 v-3.00"/>
<path d="M627.97,433.30 v-1.70"/>
<path d="M645.44,433.30 v-3.00"/>
<path d="M662.91,433.30 v-1.70"/>
<path d="M680.38,433.30 v-3.00"/>
<path d="M697.85,433.30 v-1.70"/>
<path d="M715.32,433.30 v-3.00"/>
<path d="M732.79,433.30 v-1.70"/>
<path d="M750.26,433.30 v-3.00"/>
<path d="M767.73,433.30 v-1.70"/>
<path d="M785.20,433.30 v-3.00"/>
<path d="M610.50,433.30 h-3.00"/>
<path d="M610.50,420.37 h-1.70"/>
<path d="M610.50,407.45 h-3.00"/>
<path d="M610.50,394.52 h-1.70"/>
<path d="M610.50,381.59 h-3.00"/>
<path d="M610.50,368.67 h-1.70"/>
<path d="M610.50,355.74 h-3.00"/>
<path d="M610.50,342.82 h-1.70"/>
<path d="M610.50,329.89 h-3.00"/>
<path d="M610.50,316.96 h-1.70"/>
<path d="M610.50,433.30 h174.70"/>
<path d="M610.50,555.30 v-3.00"/>
<path d="M627.97,555.30 v-1.70"/>
<path d="M645.44,555.30 v-3.00"/>
<path d="M662.91,555.30 v-1.70"/>
<path d="M680.38,555.30 v-3.00"/>
<path d="M697.85,555.30 v-1.70"/>
<path d="M715.32,555.30 v-3.00"/>
<path d="M732.79,555.30 v-1.70"/>
<path d="M750.26,555.30 v-3.00"/>
<path d="M767.73,555.30 v-1.70"/>
<path d="M785.20,555.30 v-3.00"/>
<path d="M610.50,547.67 h-3.00"/>
<path d="M610.50,532.42 h-1.70"/>
<path d="M610.50,517.17 h-3.00"/>
<path d="M610.50,501.92 h-1.70"/>
<path d="M610.50,486.67 h-3.00"/>
<path d="M610.50,471.43 h-1.70"/>
<path d="M610.50,456.18 h-3.00"/>
<path d="M610.50,440.93 h-1.70"/>
</g>
<text transform="translate(606.30,179.50) scale(0.8550,1)" font-family='"Liberation Sans", sans-serif' font-size="14.75" fill="#000" text-anchor="end">0.0000</text>
<text transform="translate(606.30,155.01) scale(0.8550,1)" font-family='"Liberation Sans", sans-serif' font-size="14.75" fill="#000" text-anchor="end">0.0002</text>
<text transform="translate(606.30,130.53) scale(0.8550,1)" font-family='"Liberation Sans", sans-serif' font-size="14.75" fill="#000" text-anchor="end">0.0004</text>
<text transform="translate(606.30,106.03) scale(0.8550,1)" font-family='"Liberation Sans", sans-serif' font-size="14.75" fill="#000" text-anchor="end">0.0006</text>
<text transform="translate(606.30,81.54) scale(0.8550,1)" font-family='"Liberation Sans", sans-serif' font-size="14.75" fill="#000" text-anchor="end">0.0008</text>
<text transform="translate(606.30,314.30) scale(0.8550,1)" font-family='"Liberation Sans", sans-serif' font-size="14.75" fill="#000" text-anchor="end">0.7</text>
<text transform="translate(606.30,283.66) scale(0.8550,1)" font-family='"Liberation Sans", sans-serif' font-size="14.75" fill="#000" text-anchor="end">0.8</text>
<text transform="translate(606.30,253.03) scale(0.8550,1)" font-family='"Liberation Sans", sans-serif' font-size="14.75" fill="#000" text-anchor="end">0.9</text>
<text transform="translate(606.30,222.39) scale(0.8550,1)" font-family='"Liberation Sans", sans-serif' font-size="14.75" fill="#000" text-anchor="end">1.0</text>
<text transform="translate(606.30,191.75) scale(0.8550,1)" font-family='"Liberation Sans", sans-serif' font-size="14.75" fill="#000" text-anchor="end">1.1</text>
<text transform="translate(606.30,437.10) scale(0.8550,1)" font-family='"Liberation Sans", sans-serif' font-size="14.75" fill="#000" text-anchor="end">-0.2</text>
<text transform="translate(606.30,411.25) scale(0.8550,1)" font-family='"Liberation Sans", sans-serif' font-size="14.75" fill="#000" text-anchor="end">0.0</text>
<text transform="translate(606.30,385.39) scale(0.8550,1)" font-family='"Liberation Sans", sans-serif' font-size="14.75" fill="#000" text-anchor="end">0.2</text>
<text transform="translate(606.30,359.54) scale(0.8550,1)" font-family='"Liberation Sans", sans-serif' font-size="14.75" fill="#000" text-anchor="end">0.4</text>
<text transform="translate(606.30,333.69) scale(0.8550,1)" font-family='"Liberation Sans", sans-serif' font-size="14.75" fill="#000" text-anchor="end">0.6</text>
<text transform="translate(606.30,551.47) scale(0.8550,1)" font-family='"Liberation Sans", sans-serif' font-size="14.75" fill="#000" text-anchor="end">0</text>
<text transform="translate(606.30,520.97) scale(0.8550,1)" font-family='"Liberation Sans", sans-serif' font-size="14.75" fill="#000" text-anchor="end">1</text>
<text transform="translate(606.30,490.47) scale(0.8550,1)" font-family='"Liberation Sans", sans-serif' font-size="14.75" fill="#000" text-anchor="end">2</text>
<text transform="translate(606.30,459.98) scale(0.8550,1)" font-family='"Liberation Sans", sans-serif' font-size="14.75" fill="#000" text-anchor="end">3</text>
<text transform="translate(610.50,569.00) scale(0.8550,1)" font-family='"Liberation Sans", sans-serif' font-size="14.75" fill="#000" text-anchor="middle">0.000</text>
<text transform="translate(645.44,569.00) scale(0.8550,1)" font-family='"Liberation Sans", sans-serif' font-size="14.75" fill="#000" text-anchor="middle">0.002</text>
<text transform="translate(680.38,569.00) scale(0.8550,1)" font-family='"Liberation Sans", sans-serif' font-size="14.75" fill="#000" text-anchor="middle">0.004</text>
<text transform="translate(715.32,569.00) scale(0.8550,1)" font-family='"Liberation Sans", sans-serif' font-size="14.75" fill="#000" text-anchor="middle">0.006</text>
<text transform="translate(750.26,569.00) scale(0.8550,1)" font-family='"Liberation Sans", sans-serif' font-size="14.75" fill="#000" text-anchor="middle">0.008</text>
<text transform="translate(785.20,569.00) scale(0.8550,1)" font-family='"Liberation Sans", sans-serif' font-size="14.75" fill="#000" text-anchor="middle">0.010</text>
<text transform="translate(135.50,86.50) scale(0.9370,1)" font-family='"Liberation Sans", sans-serif' font-size="14.20" fill="#000" text-anchor="start">(a1)</text>
<text transform="translate(376.20,85.00) scale(0.9370,1)" font-family='"Liberation Sans", sans-serif' font-size="14.20" fill="#000" text-anchor="start">(a2)</text>
<text transform="translate(617.60,87.10) scale(0.9370,1)" font-family='"Liberation Sans", sans-serif' font-size="14.20" fill="#000" text-anchor="start">(a3)</text>
<text transform="translate(134.50,206.50) scale(0.9370,1)" font-family='"Liberation Sans", sans-serif' font-size="14.20" fill="#000" text-anchor="start">(b1)</text>
<text transform="translate(377.90,207.40) scale(0.9370,1)" font-family='"Liberation Sans", sans-serif' font-size="14.20" fill="#000" text-anchor="start">(b2)</text>
<text transform="translate(616.00,206.20) scale(0.9370,1)" font-family='"Liberation Sans", sans-serif' font-size="14.20" fill="#000" text-anchor="start">(b3)</text>
<text transform="translate(138.30,331.90) scale(0.9370,1)" font-family='"Liberation Sans", sans-serif' font-size="14.20" fill="#000" text-anchor="start">(c1)</text>
<text transform="translate(374.30,331.00) scale(0.9370,1)" font-family='"Liberation Sans", sans-serif' font-size="14.20" fill="#000" text-anchor="start">(c2)</text>
<text transform="translate(615.20,333.30) scale(0.9370,1)" font-family='"Liberation Sans", sans-serif' font-size="14.20" fill="#000" text-anchor="start">(c3)</text>
<text transform="translate(136.20,453.00) scale(0.9370,1)" font-family='"Liberation Sans", sans-serif' font-size="14.20" fill="#000" text-anchor="start">(d1)</text>
<text transform="translate(375.30,453.40) scale(0.9370,1)" font-family='"Liberation Sans", sans-serif' font-size="14.20" fill="#000" text-anchor="start">(d2)</text>
<text transform="translate(614.30,452.00) scale(0.9370,1)" font-family='"Liberation Sans", sans-serif' font-size="14.20" fill="#000" text-anchor="start">(d3)</text>
<g transform="translate(78.00,122.00)" stroke="#000" stroke-width="1.15" fill="none" stroke-linejoin="miter" stroke-linecap="butt">
<path d="M-10.1,-0.3 H-0.1" stroke-width="1.35"/>
<path d="M-6.0,-3.0 L-3.1,-9.0 L-0.2,-3.0"/>
<path d="M-6.0,2.75 L-3.1,9.0 L-0.2,2.75"/>
</g>
<g transform="translate(97.90,259.26) rotate(-90)" font-family='"Liberation Sans", sans-serif' fill="#000"><text transform="translate(0.00,0.00) scale(0.2265,0.25)" font-size="62.00">C</text><text transform="translate(10.14,4.00) scale(0.2435,0.25)" font-size="39.60">2</text><text transform="translate(15.50,0.00) scale(0.2265,0.25)" font-size="62.00">/C</text><text transform="translate(29.55,4.00) scale(0.2435,0.25)" font-size="39.60">1</text></g>
<g transform="translate(97.40,387.36) rotate(-90)" font-family='"Liberation Sans", sans-serif' fill="#000"><text transform="translate(0.00,0.00) scale(0.2265,0.25)" font-size="62.00">C</text><text transform="translate(10.14,4.00) scale(0.2435,0.25)" font-size="39.60">3</text><text transform="translate(15.50,0.00) scale(0.2265,0.25)" font-size="62.00">/C</text><text transform="translate(29.55,4.00) scale(0.2435,0.25)" font-size="39.60">1</text></g>
<g transform="translate(105.30,511.96) rotate(-90)" font-family='"Liberation Sans", sans-serif' fill="#000"><text transform="translate(0.00,0.00) scale(0.2265,0.25)" font-size="62.00">C</text><text transform="translate(10.14,4.00) scale(0.2435,0.25)" font-size="39.60">4</text><text transform="translate(15.50,0.00) scale(0.2265,0.25)" font-size="62.00">/C</text><text transform="translate(29.55,4.00) scale(0.2435,0.25)" font-size="39.60">1</text></g>
<g transform="translate(321.50,123.10)" stroke="#000" stroke-width="1.15" fill="none" stroke-linejoin="miter" stroke-linecap="butt">
<path d="M-10.1,-0.3 H-0.1" stroke-width="1.35"/>
<path d="M-6.0,-3.0 L-3.1,-9.0 L-0.2,-3.0"/>
<path d="M-6.0,2.75 L-3.1,9.0 L-0.2,2.75"/>
</g>
<g transform="translate(336.80,265.46) rotate(-90)" font-family='"Liberation Sans", sans-serif' fill="#000"><text transform="translate(0.00,0.00) scale(0.2265,0.25)" font-size="62.00">C</text><text transform="translate(10.14,4.00) scale(0.2435,0.25)" font-size="39.60">2</text><text transform="translate(15.50,0.00) scale(0.2265,0.25)" font-size="62.00">/C</text><text transform="translate(29.55,4.00) scale(0.2435,0.25)" font-size="39.60">1</text></g>
<g transform="translate(334.60,388.96) rotate(-90)" font-family='"Liberation Sans", sans-serif' fill="#000"><text transform="translate(0.00,0.00) scale(0.2265,0.25)" font-size="62.00">C</text><text transform="translate(10.14,4.00) scale(0.2435,0.25)" font-size="39.60">3</text><text transform="translate(15.50,0.00) scale(0.2265,0.25)" font-size="62.00">/C</text><text transform="translate(29.55,4.00) scale(0.2435,0.25)" font-size="39.60">1</text></g>
<g transform="translate(344.90,509.56) rotate(-90)" font-family='"Liberation Sans", sans-serif' fill="#000"><text transform="translate(0.00,0.00) scale(0.2265,0.25)" font-size="62.00">C</text><text transform="translate(10.14,4.00) scale(0.2435,0.25)" font-size="39.60">4</text><text transform="translate(15.50,0.00) scale(0.2265,0.25)" font-size="62.00">/C</text><text transform="translate(29.55,4.00) scale(0.2435,0.25)" font-size="39.60">1</text></g>
<g transform="translate(560.80,125.70)" stroke="#000" stroke-width="1.15" fill="none" stroke-linejoin="miter" stroke-linecap="butt">
<path d="M-10.1,-0.3 H-0.1" stroke-width="1.35"/>
<path d="M-6.0,-3.0 L-3.1,-9.0 L-0.2,-3.0"/>
<path d="M-6.0,2.75 L-3.1,9.0 L-0.2,2.75"/>
</g>
<g transform="translate(576.80,264.76) rotate(-90)" font-family='"Liberation Sans", sans-serif' fill="#000"><text transform="translate(0.00,0.00) scale(0.2265,0.25)" font-size="62.00">C</text><text transform="translate(10.14,4.00) scale(0.2435,0.25)" font-size="39.60">2</text><text transform="translate(15.50,0.00) scale(0.2265,0.25)" font-size="62.00">/C</text><text transform="translate(29.55,4.00) scale(0.2435,0.25)" font-size="39.60">1</text></g>
<g transform="translate(575.30,390.66) rotate(-90)" font-family='"Liberation Sans", sans-serif' fill="#000"><text transform="translate(0.00,0.00) scale(0.2265,0.25)" font-size="62.00">C</text><text transform="translate(10.14,4.00) scale(0.2435,0.25)" font-size="39.60">3</text><text transform="translate(15.50,0.00) scale(0.2265,0.25)" font-size="62.00">/C</text><text transform="translate(29.55,4.00) scale(0.2435,0.25)" font-size="39.60">1</text></g>
<g transform="translate(584.90,509.56) rotate(-90)" font-family='"Liberation Sans", sans-serif' fill="#000"><text transform="translate(0.00,0.00) scale(0.2265,0.25)" font-size="62.00">C</text><text transform="translate(10.14,4.00) scale(0.2435,0.25)" font-size="39.60">4</text><text transform="translate(15.50,0.00) scale(0.2265,0.25)" font-size="62.00">/C</text><text transform="translate(29.55,4.00) scale(0.2435,0.25)" font-size="39.60">1</text></g>
<g transform="translate(210.65,585.00)" font-family='"Liberation Serif", serif' fill="#222"><text transform="translate(0.00,0.00) scale(0.2115,0.25)" font-size="61.20">&#915;</text><text transform="translate(7.48,5.00) scale(0.2475,0.25)" font-size="42.80">R</text></g>
<g transform="translate(450.40,586.00)" font-family='"Liberation Serif", serif' fill="#222"><text transform="translate(0.00,0.00) scale(0.2115,0.25)" font-size="61.20">&#915;</text><text transform="translate(7.48,5.00) scale(0.2475,0.25)" font-size="42.80">R</text></g>
<g transform="translate(690.20,587.00)" font-family='"Liberation Serif", serif' fill="#222"><text transform="translate(0.00,0.00) scale(0.2115,0.25)" font-size="61.20">&#915;</text><text transform="translate(7.48,6.00) scale(0.2475,0.25)" font-size="42.80">R</text></g>
<text transform="translate(234.00,138.90) scale(0.8850,1)" font-family='"Liberation Sans", sans-serif' font-size="14.90" fill="#000" text-anchor="start">J=0.001</text>
<g transform="translate(176.90,168.90)" font-family='"Liberation Serif", serif' fill="#222"><text transform="translate(0.00,0.00) scale(0.2115,0.25)" font-size="61.20">&#915;</text><text transform="translate(7.48,4.90) scale(0.2475,0.25)" font-size="42.80">L</text><text transform="translate(13.95,0.00) scale(0.2115,0.25)" font-size="61.20">=0.1&#915;</text><text transform="translate(44.92,4.90) scale(0.2475,0.25)" font-size="42.80">R</text></g>
<g transform="translate(241.20,171.05)" font-family='"Liberation Sans", sans-serif' fill="#000"><text transform="translate(0.00,0.00) scale(0.2213,0.25)" font-size="59.60">k</text><text transform="translate(6.59,6.20) scale(0.2175,0.25)" font-size="48.00">B</text><text transform="translate(13.56,0.00) scale(0.2250,0.25)" font-size="59.60">T=0.1</text></g>
<text transform="translate(471.70,149.70) scale(0.8850,1)" font-family='"Liberation Sans", sans-serif' font-size="14.90" fill="#000" text-anchor="start">J=0.001</text>
<g transform="translate(410.60,173.80)" font-family='"Liberation Serif", serif' fill="#222"><text transform="translate(0.00,0.00) scale(0.2115,0.25)" font-size="61.20">&#915;</text><text transform="translate(7.48,4.90) scale(0.2475,0.25)" font-size="42.80">L</text><text transform="translate(13.95,0.00) scale(0.2115,0.25)" font-size="61.20">=0.1&#915;</text><text transform="translate(44.92,4.90) scale(0.2475,0.25)" font-size="42.80">R</text></g>
<g transform="translate(472.50,172.55)" font-family='"Liberation Sans", sans-serif' fill="#000"><text transform="translate(0.00,0.00) scale(0.2213,0.25)" font-size="59.60">k</text><text transform="translate(6.59,6.20) scale(0.2175,0.25)" font-size="48.00">B</text><text transform="translate(13.56,0.00) scale(0.2250,0.25)" font-size="59.60">T=0.05</text></g>
<text transform="translate(699.60,148.60) scale(0.8850,1)" font-family='"Liberation Sans", sans-serif' font-size="14.90" fill="#000" text-anchor="start">J=0.001</text>
<g transform="translate(657.20,172.20)" font-family='"Liberation Serif", serif' fill="#222"><text transform="translate(0.00,0.00) scale(0.2115,0.25)" font-size="61.20">&#915;</text><text transform="translate(7.48,4.90) scale(0.2475,0.25)" font-size="42.80">L</text><text transform="translate(13.95,0.00) scale(0.2115,0.25)" font-size="61.20">=0.1&#915;</text><text transform="translate(44.92,4.90) scale(0.2475,0.25)" font-size="42.80">R</text></g>
<g transform="translate(715.60,172.00)" font-family='"Liberation Sans", sans-serif' fill="#000"><text transform="translate(0.00,0.00) scale(0.2213,0.25)" font-size="59.60">k</text><text transform="translate(6.59,6.20) scale(0.2175,0.25)" font-size="48.00">B</text><text transform="translate(13.56,0.00) scale(0.2250,0.25)" font-size="59.60">T=0.02</text></g>
<path d="M137.65,469.20 h25.4" fill="none" stroke="#000" stroke-width="2.0" stroke-linecap="round"/>
<text transform="translate(166.80,473.10) scale(0.9850,1)" font-family='"Liberation Sans", sans-serif' font-size="10.40" fill="#000" text-anchor="start">second-order diagonal</text>
<path d="M137.65,482.80 h25.4" fill="none" stroke="#ff0000" stroke-width="2.1" stroke-linecap="round" stroke-dasharray="7.7 7.6"/>
<text transform="translate(166.80,486.60) scale(0.9850,1)" font-family='"Liberation Sans", sans-serif' font-size="10.40" fill="#000" text-anchor="start">second-order off-diagonal</text>
<path d="M138.05,496.10 h20.0" fill="none" stroke="#00ff00" stroke-width="2.3" stroke-linecap="round" stroke-dasharray="1.2 7.8"/>
<text transform="translate(166.80,499.90) scale(0.9850,1)" font-family='"Liberation Sans", sans-serif' font-size="10.40" fill="#000" text-anchor="start">fourth-order diagonal</text>
<path d="M137.65,509.30 h25.9" fill="none" stroke="#0000ff" stroke-width="2.2" stroke-linecap="round" stroke-dasharray="8.8 4.03 1.0 4.5"/>
<text transform="translate(166.80,512.80) scale(0.9850,1)" font-family='"Liberation Sans", sans-serif' font-size="10.40" fill="#000" text-anchor="start">fourth-order off-diagonal</text>
<path d="M376.95,473.30 h25.4" fill="none" stroke="#000" stroke-width="2.0" stroke-linecap="round"/>
<text transform="translate(406.10,477.20) scale(0.9850,1)" font-family='"Liberation Sans", sans-serif' font-size="10.40" fill="#000" text-anchor="start">second-order diagonal</text>
<path d="M376.95,486.55 h25.4" fill="none" stroke="#ff0000" stroke-width="2.1" stroke-linecap="round" stroke-dasharray="7.7 7.6"/>
<text transform="translate(406.10,490.45) scale(0.9850,1)" font-family='"Liberation Sans", sans-serif' font-size="10.40" fill="#000" text-anchor="start">second-order off-diagonal</text>
<path d="M377.35,499.80 h20.0" fill="none" stroke="#00ff00" stroke-width="2.3" stroke-linecap="round" stroke-dasharray="1.2 7.8"/>
<text transform="translate(406.10,503.70) scale(0.9850,1)" font-family='"Liberation Sans", sans-serif' font-size="10.40" fill="#000" text-anchor="start">fourth-order diagonal</text>
<path d="M376.95,513.05 h25.9" fill="none" stroke="#0000ff" stroke-width="2.2" stroke-linecap="round" stroke-dasharray="8.8 4.03 1.0 4.5"/>
<text transform="translate(406.10,516.95) scale(0.9850,1)" font-family='"Liberation Sans", sans-serif' font-size="10.40" fill="#000" text-anchor="start">fourth-order off-diagonal</text>
<path d="M620.25,467.20 h25.4" fill="none" stroke="#000" stroke-width="2.0" stroke-linecap="round"/>
<text transform="translate(648.50,471.10) scale(0.9850,1)" font-family='"Liberation Sans", sans-serif' font-size="10.40" fill="#000" text-anchor="start">second-order diagonal</text>
<path d="M620.25,480.60 h25.4" fill="none" stroke="#ff0000" stroke-width="2.1" stroke-linecap="round" stroke-dasharray="7.7 7.6"/>
<text transform="translate(648.50,484.30) scale(0.9850,1)" font-family='"Liberation Sans", sans-serif' font-size="10.40" fill="#000" text-anchor="start">second-order off-diagonal</text>
<path d="M620.65,493.70 h20.0" fill="none" stroke="#00ff00" stroke-width="2.3" stroke-linecap="round" stroke-dasharray="1.2 7.8"/>
<text transform="translate(648.50,497.30) scale(0.9850,1)" font-family='"Liberation Sans", sans-serif' font-size="10.40" fill="#000" text-anchor="start">fourth-order diagonal</text>
<path d="M620.25,506.95 h25.9" fill="none" stroke="#0000ff" stroke-width="2.2" stroke-linecap="round" stroke-dasharray="8.8 4.03 1.0 4.5"/>
<text transform="translate(648.50,510.75) scale(0.9850,1)" font-family='"Liberation Sans", sans-serif' font-size="10.40" fill="#000" text-anchor="start">fourth-order off-diagonal</text>
</svg>
</body></html>
